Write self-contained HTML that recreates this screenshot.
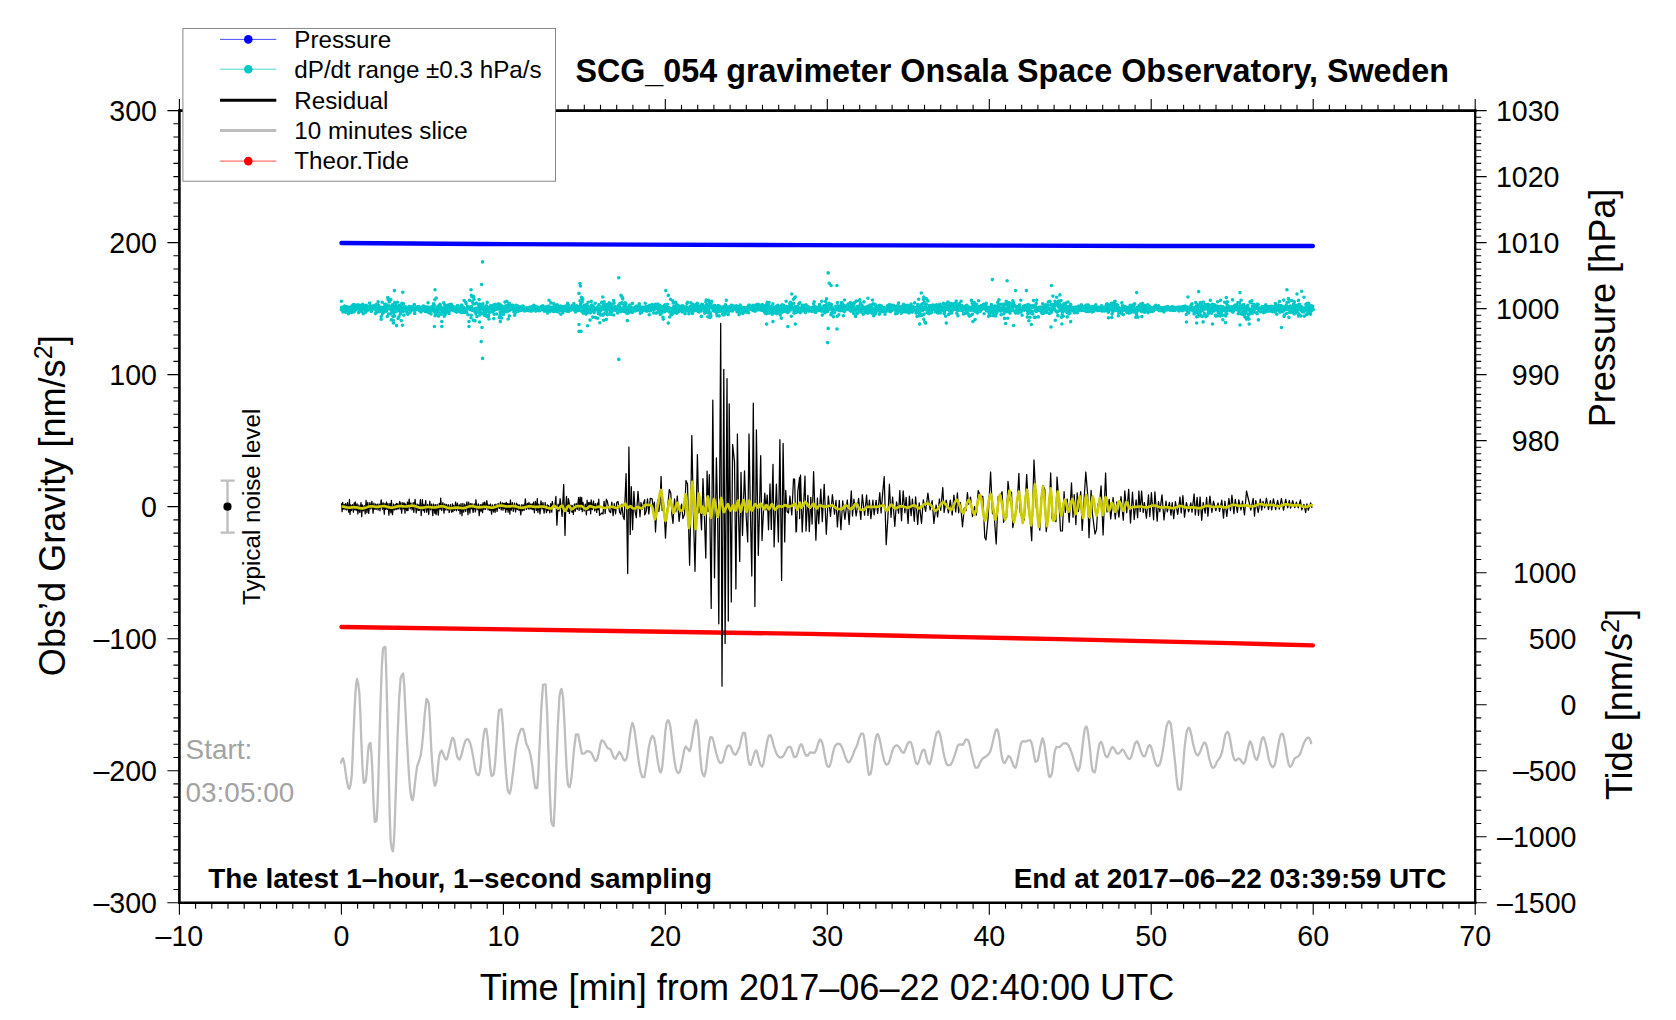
<!DOCTYPE html>
<html lang="en"><head><meta charset="utf-8"><title>SCG_054 gravimeter Onsala Space Observatory, Sweden</title>
<style>html,body{margin:0;padding:0;background:#fff}svg{display:block}</style></head>
<body>
<svg width="1676" height="1020" viewBox="0 0 1676 1020" font-family='"Liberation Sans", sans-serif' fill="#000">
<rect width="1676" height="1020" fill="#fff"/>
<polyline fill="none" stroke="#ff0000" stroke-width="4.4" stroke-linecap="round" stroke-linejoin="round" points="341.5,627.00 600.0,630.70 810.0,633.90 900.0,635.80 950.0,636.90 1060.0,639.10 1230.0,643.10 1312.8,645.40"/>
<polyline fill="none" stroke="#0000ff" stroke-width="4.4" stroke-linecap="round" stroke-linejoin="round" points="341.5,243.00 480.0,244.00 640.0,244.60 800.0,245.10 1000.0,245.60 1150.0,246.00 1312.8,246.00"/>
<path fill="none" stroke="#00c8c8" stroke-width="3.6" stroke-linecap="round" d="M341.4 309.7h0M341.6 307.4h0M341.9 307.6h0M342.2 309.8h0M342.5 307.5h0M342.7 309.3h0M343.0 312.0h0M343.3 308.8h0M343.5 308.4h0M343.8 310.2h0M344.1 308.0h0M344.3 310.9h0M344.6 306.1h0M344.9 310.0h0M345.2 307.7h0M345.4 307.1h0M345.7 312.3h0M346.0 307.0h0M346.2 312.3h0M346.5 310.0h0M346.8 311.7h0M347.0 306.7h0M347.3 311.2h0M347.6 311.7h0M347.9 308.5h0M348.1 308.4h0M348.4 313.7h0M348.7 309.1h0M348.9 307.8h0M349.2 307.4h0M349.5 309.6h0M349.7 309.4h0M350.0 309.1h0M350.3 312.2h0M350.6 308.0h0M350.8 309.7h0M351.1 311.7h0M351.4 306.6h0M351.6 310.8h0M351.9 312.5h0M352.2 305.9h0M352.4 306.5h0M352.7 306.6h0M353.0 304.9h0M353.3 309.6h0M353.5 304.9h0M353.8 309.7h0M354.1 311.7h0M354.3 305.4h0M354.6 308.1h0M354.9 304.8h0M355.1 310.3h0M355.4 307.2h0M355.7 308.2h0M356.0 308.8h0M356.2 309.8h0M356.5 308.0h0M356.8 308.7h0M357.0 307.6h0M357.3 308.9h0M357.6 306.3h0M357.8 308.8h0M358.1 304.7h0M358.4 307.7h0M358.7 312.6h0M358.9 308.9h0M359.2 306.1h0M359.5 309.2h0M359.7 306.7h0M360.0 305.3h0M360.3 307.2h0M360.5 310.2h0M360.8 309.5h0M361.1 308.5h0M361.4 306.8h0M361.6 306.5h0M361.9 311.5h0M362.2 309.2h0M362.4 306.7h0M362.7 304.4h0M363.0 305.9h0M363.2 313.8h0M363.5 306.3h0M363.8 308.5h0M364.1 309.1h0M364.3 308.4h0M364.6 308.1h0M364.9 305.9h0M365.1 306.5h0M365.4 312.2h0M365.7 307.1h0M365.9 310.4h0M366.2 305.2h0M366.5 308.1h0M366.8 309.2h0M367.0 310.8h0M367.3 306.4h0M367.6 309.9h0M367.8 309.5h0M368.1 307.2h0M368.4 309.7h0M368.6 306.9h0M368.9 307.1h0M369.2 308.7h0M369.5 303.1h0M369.7 308.5h0M370.0 306.6h0M370.3 305.7h0M370.5 307.8h0M370.8 310.3h0M371.1 307.9h0M371.3 311.4h0M371.6 306.2h0M371.9 307.5h0M372.2 307.9h0M372.4 306.8h0M372.7 308.7h0M373.0 309.0h0M373.2 305.9h0M373.5 306.3h0M373.8 306.0h0M374.0 306.3h0M374.3 307.4h0M374.6 306.3h0M374.9 306.9h0M375.1 309.2h0M375.4 313.6h0M375.7 309.9h0M375.9 304.9h0M376.2 312.9h0M376.5 308.6h0M376.7 311.4h0M377.0 304.6h0M377.3 309.5h0M377.6 308.4h0M377.8 308.3h0M378.1 301.9h0M378.4 307.3h0M378.6 305.2h0M378.9 311.8h0M379.2 307.2h0M379.4 309.3h0M379.7 308.9h0M380.0 309.5h0M380.3 307.9h0M380.5 308.0h0M380.8 309.3h0M381.1 307.2h0M381.3 308.8h0M381.6 311.3h0M381.9 309.7h0M382.2 302.2h0M382.4 313.8h0M382.7 311.7h0M383.0 311.7h0M383.2 307.3h0M383.5 309.5h0M383.8 308.8h0M384.0 312.1h0M384.3 309.5h0M384.6 310.1h0M384.9 304.6h0M385.1 304.2h0M385.4 307.8h0M385.7 310.0h0M385.9 304.3h0M386.2 304.5h0M386.5 311.1h0M386.7 309.3h0M387.0 306.2h0M387.3 316.5h0M387.6 307.4h0M387.8 297.5h0M388.1 299.8h0M388.4 306.7h0M388.6 314.0h0M388.9 305.8h0M389.2 301.9h0M389.4 308.7h0M389.7 309.0h0M390.0 299.9h0M390.3 306.6h0M390.5 313.9h0M390.8 299.6h0M391.1 307.0h0M391.3 319.9h0M391.6 310.6h0M391.9 305.9h0M392.1 309.9h0M392.4 304.9h0M392.7 309.5h0M393.0 316.6h0M393.2 309.9h0M393.5 312.9h0M393.8 306.4h0M394.0 309.3h0M394.3 309.5h0M394.6 315.9h0M394.8 302.6h0M395.1 308.4h0M395.4 309.9h0M395.7 311.8h0M395.9 303.8h0M396.2 307.9h0M396.5 325.6h0M396.7 310.6h0M397.0 306.3h0M397.3 302.2h0M397.5 307.4h0M397.8 310.7h0M398.1 318.4h0M398.4 308.1h0M398.6 308.1h0M398.9 316.8h0M399.2 309.6h0M399.4 305.3h0M399.7 309.9h0M400.0 309.0h0M400.2 314.1h0M400.5 310.5h0M400.8 312.3h0M401.1 305.6h0M401.3 307.0h0M401.6 309.2h0M401.9 303.3h0M402.1 306.4h0M402.4 307.3h0M402.7 311.4h0M402.9 309.8h0M403.2 308.6h0M403.5 303.7h0M403.8 315.3h0M404.0 315.0h0M404.3 310.6h0M404.6 309.2h0M404.8 308.6h0M405.1 310.7h0M405.4 306.8h0M405.6 308.8h0M405.9 308.1h0M406.2 309.8h0M406.5 309.8h0M406.7 309.9h0M407.0 312.5h0M407.3 309.0h0M407.5 309.0h0M407.8 314.3h0M408.1 307.7h0M408.3 307.4h0M408.6 309.1h0M408.9 306.5h0M409.2 306.5h0M409.4 307.2h0M409.7 308.9h0M410.0 312.6h0M410.2 309.3h0M410.5 310.1h0M410.8 308.1h0M411.0 308.1h0M411.3 310.5h0M411.6 306.7h0M411.9 308.7h0M412.1 309.5h0M412.4 308.6h0M412.7 308.0h0M412.9 307.4h0M413.2 307.0h0M413.5 308.9h0M413.7 308.6h0M414.0 310.1h0M414.3 304.6h0M414.6 313.4h0M414.8 313.4h0M415.1 308.6h0M415.4 310.1h0M415.6 309.7h0M415.9 309.3h0M416.2 308.3h0M416.4 308.4h0M416.7 307.0h0M417.0 309.1h0M417.3 308.7h0M417.5 309.4h0M417.8 306.9h0M418.1 308.8h0M418.3 308.8h0M418.6 309.9h0M418.9 306.5h0M419.1 309.6h0M419.4 310.7h0M419.7 309.9h0M420.0 307.9h0M420.2 307.7h0M420.5 308.2h0M420.8 310.2h0M421.0 311.9h0M421.3 308.4h0M421.6 307.4h0M421.8 309.5h0M422.1 309.1h0M422.4 306.8h0M422.7 307.2h0M422.9 308.5h0M423.2 310.2h0M423.5 306.0h0M423.7 306.4h0M424.0 309.0h0M424.3 309.5h0M424.5 308.6h0M424.8 307.9h0M425.1 311.5h0M425.4 306.9h0M425.6 311.3h0M425.9 308.0h0M426.2 310.8h0M426.4 310.7h0M426.7 307.6h0M427.0 311.6h0M427.2 307.3h0M427.5 310.0h0M427.8 311.3h0M428.1 302.7h0M428.3 307.1h0M428.6 312.5h0M428.9 312.6h0M429.1 307.5h0M429.4 308.0h0M429.7 308.6h0M429.9 309.0h0M430.2 310.3h0M430.5 310.4h0M430.8 308.8h0M431.0 314.0h0M431.3 309.3h0M431.6 308.1h0M431.8 306.9h0M432.1 310.8h0M432.4 309.3h0M432.6 308.3h0M432.9 309.6h0M433.2 305.8h0M433.5 303.8h0M433.7 308.6h0M434.0 305.9h0M434.3 305.0h0M434.5 311.9h0M434.8 299.7h0M435.1 315.7h0M435.3 309.0h0M435.6 313.2h0M435.9 312.4h0M436.2 298.1h0M436.4 314.6h0M436.7 310.8h0M437.0 308.7h0M437.2 314.3h0M437.5 306.7h0M437.8 308.3h0M438.0 311.7h0M438.3 309.1h0M438.6 316.1h0M438.9 305.6h0M439.1 309.8h0M439.4 308.3h0M439.7 306.7h0M439.9 304.4h0M440.2 305.5h0M440.5 305.6h0M440.7 313.2h0M441.0 307.3h0M441.3 314.2h0M441.6 313.9h0M441.8 308.0h0M442.1 311.1h0M442.4 309.5h0M442.6 310.7h0M442.9 308.3h0M443.2 312.5h0M443.4 312.5h0M443.7 302.8h0M444.0 311.1h0M444.3 316.2h0M444.5 304.5h0M444.8 307.3h0M445.1 309.7h0M445.3 314.3h0M445.6 313.1h0M445.9 308.8h0M446.1 306.7h0M446.4 306.9h0M446.7 307.8h0M447.0 311.6h0M447.2 310.0h0M447.5 305.4h0M447.8 306.2h0M448.0 309.7h0M448.3 311.3h0M448.6 307.0h0M448.8 305.1h0M449.1 313.4h0M449.4 310.7h0M449.7 304.6h0M449.9 309.0h0M450.2 304.6h0M450.5 310.3h0M450.7 308.3h0M451.0 309.2h0M451.3 304.2h0M451.5 305.6h0M451.8 307.2h0M452.1 306.2h0M452.4 306.8h0M452.6 308.3h0M452.9 306.2h0M453.2 306.7h0M453.4 310.4h0M453.7 307.5h0M454.0 308.7h0M454.2 310.9h0M454.5 309.8h0M454.8 310.7h0M455.1 307.6h0M455.3 310.3h0M455.6 308.3h0M455.9 309.4h0M456.1 308.7h0M456.4 312.1h0M456.7 306.9h0M456.9 311.3h0M457.2 308.7h0M457.5 305.6h0M457.8 308.4h0M458.0 307.2h0M458.3 309.9h0M458.6 307.1h0M458.8 307.6h0M459.1 311.6h0M459.4 307.7h0M459.6 307.8h0M459.9 308.6h0M460.2 307.2h0M460.5 310.2h0M460.7 306.2h0M461.0 307.7h0M461.3 312.6h0M461.5 305.0h0M461.8 306.4h0M462.1 308.9h0M462.3 310.8h0M462.6 308.6h0M462.9 309.7h0M463.2 310.7h0M463.4 307.4h0M463.7 308.6h0M464.0 312.4h0M464.2 300.6h0M464.5 310.1h0M464.8 310.8h0M465.1 309.5h0M465.3 310.6h0M465.6 302.2h0M465.9 312.2h0M466.1 303.4h0M466.4 312.1h0M466.7 311.9h0M466.9 308.8h0M467.2 307.4h0M467.5 306.4h0M467.8 308.1h0M468.0 314.7h0M468.3 307.1h0M468.6 307.9h0M468.8 308.8h0M469.1 307.8h0M469.4 300.2h0M469.6 307.5h0M469.9 309.4h0M470.2 309.0h0M470.5 308.3h0M470.7 306.9h0M471.0 317.7h0M471.3 315.3h0M471.5 306.7h0M471.8 310.3h0M472.1 296.7h0M472.3 301.7h0M472.6 308.7h0M472.9 310.4h0M473.2 303.8h0M473.4 320.3h0M473.7 296.6h0M474.0 299.5h0M474.2 309.0h0M474.5 311.2h0M474.8 304.0h0M475.0 320.8h0M475.3 308.9h0M475.6 310.2h0M475.9 313.7h0M476.1 308.3h0M476.4 303.0h0M476.7 308.2h0M476.9 316.4h0M477.2 311.7h0M477.5 309.4h0M477.7 310.4h0M478.0 307.7h0M478.3 304.5h0M478.6 312.2h0M478.8 309.6h0M479.1 299.6h0M479.4 310.0h0M479.6 304.0h0M479.9 314.9h0M480.2 311.7h0M480.4 313.1h0M480.7 306.4h0M481.0 309.0h0M481.3 313.4h0M481.5 307.3h0M481.8 306.4h0M482.1 308.0h0M482.3 306.6h0M482.6 308.3h0M482.9 303.9h0M483.1 313.0h0M483.4 308.1h0M483.7 310.0h0M484.0 307.5h0M484.2 315.2h0M484.5 307.2h0M484.8 310.5h0M485.0 308.1h0M485.3 312.2h0M485.6 307.6h0M485.8 314.1h0M486.1 311.9h0M486.4 305.8h0M486.7 316.5h0M486.9 310.1h0M487.2 302.4h0M487.5 310.2h0M487.7 311.3h0M488.0 307.2h0M488.3 316.4h0M488.5 315.4h0M488.8 309.2h0M489.1 308.8h0M489.4 308.1h0M489.6 312.6h0M489.9 307.0h0M490.2 306.8h0M490.4 308.1h0M490.7 305.8h0M491.0 308.6h0M491.2 308.8h0M491.5 308.5h0M491.8 309.8h0M492.1 309.8h0M492.3 309.5h0M492.6 310.8h0M492.9 312.0h0M493.1 307.4h0M493.4 305.0h0M493.7 308.4h0M493.9 310.4h0M494.2 314.2h0M494.5 306.1h0M494.8 307.5h0M495.0 305.5h0M495.3 304.3h0M495.6 309.6h0M495.8 308.8h0M496.1 307.5h0M496.4 308.3h0M496.6 314.0h0M496.9 307.5h0M497.2 307.8h0M497.5 306.2h0M497.7 309.3h0M498.0 308.0h0M498.3 306.2h0M498.5 303.9h0M498.8 308.2h0M499.1 307.6h0M499.3 317.7h0M499.6 304.5h0M499.9 316.0h0M500.2 312.0h0M500.4 314.6h0M500.7 309.0h0M501.0 305.3h0M501.2 307.9h0M501.5 309.6h0M501.8 310.9h0M502.0 311.3h0M502.3 306.5h0M502.6 310.4h0M502.9 309.3h0M503.1 309.0h0M503.4 314.5h0M503.7 312.1h0M503.9 312.5h0M504.2 309.9h0M504.5 308.2h0M504.7 308.6h0M505.0 302.1h0M505.3 306.0h0M505.6 308.7h0M505.8 310.9h0M506.1 309.4h0M506.4 305.9h0M506.6 310.7h0M506.9 301.4h0M507.2 311.7h0M507.4 306.5h0M507.7 310.2h0M508.0 305.8h0M508.3 306.8h0M508.5 310.7h0M508.8 304.0h0M509.1 306.6h0M509.3 315.9h0M509.6 303.9h0M509.9 310.3h0M510.1 309.7h0M510.4 307.9h0M510.7 306.8h0M511.0 309.5h0M511.2 308.9h0M511.5 308.7h0M511.8 308.5h0M512.0 309.0h0M512.3 305.3h0M512.6 305.3h0M512.8 308.4h0M513.1 305.7h0M513.4 306.7h0M513.7 307.7h0M513.9 311.9h0M514.2 309.1h0M514.5 309.9h0M514.7 315.2h0M515.0 307.5h0M515.3 312.7h0M515.5 308.3h0M515.8 308.0h0M516.1 305.2h0M516.4 311.8h0M516.6 308.3h0M516.9 307.4h0M517.2 310.6h0M517.4 308.2h0M517.7 306.1h0M518.0 306.3h0M518.2 311.2h0M518.5 307.7h0M518.8 308.3h0M519.1 309.7h0M519.3 306.7h0M519.6 308.7h0M519.9 309.1h0M520.1 306.9h0M520.4 308.8h0M520.7 309.0h0M520.9 310.5h0M521.2 310.0h0M521.5 309.8h0M521.8 308.2h0M522.0 308.4h0M522.3 308.2h0M522.6 309.0h0M522.8 306.1h0M523.1 309.7h0M523.4 306.6h0M523.6 308.0h0M523.9 308.7h0M524.2 308.0h0M524.5 310.9h0M524.7 308.6h0M525.0 310.8h0M525.3 310.3h0M525.5 308.0h0M525.8 309.2h0M526.1 310.4h0M526.3 308.3h0M526.6 308.8h0M526.9 307.9h0M527.2 308.8h0M527.4 308.2h0M527.7 308.8h0M528.0 310.0h0M528.2 310.6h0M528.5 308.9h0M528.8 309.0h0M529.0 309.9h0M529.3 308.3h0M529.6 307.3h0M529.9 310.2h0M530.1 307.4h0M530.4 310.0h0M530.7 307.4h0M530.9 311.2h0M531.2 307.3h0M531.5 309.8h0M531.7 310.7h0M532.0 307.4h0M532.3 310.7h0M532.6 307.6h0M532.8 306.3h0M533.1 309.7h0M533.4 309.6h0M533.6 308.4h0M533.9 305.3h0M534.2 308.6h0M534.4 308.3h0M534.7 308.2h0M535.0 308.3h0M535.3 306.3h0M535.5 307.9h0M535.8 311.1h0M536.1 310.8h0M536.3 308.2h0M536.6 307.7h0M536.9 309.2h0M537.1 310.1h0M537.4 309.7h0M537.7 307.1h0M538.0 308.9h0M538.2 308.9h0M538.5 310.6h0M538.8 310.3h0M539.0 309.4h0M539.3 310.3h0M539.6 308.2h0M539.8 310.8h0M540.1 308.1h0M540.4 309.2h0M540.7 309.9h0M540.9 307.5h0M541.2 307.8h0M541.5 306.3h0M541.7 308.9h0M542.0 308.6h0M542.3 308.3h0M542.5 309.4h0M542.8 305.9h0M543.1 308.7h0M543.4 308.8h0M543.6 308.3h0M543.9 309.8h0M544.2 311.1h0M544.4 308.1h0M544.7 307.4h0M545.0 307.9h0M545.3 308.9h0M545.5 309.9h0M545.8 307.0h0M546.1 310.7h0M546.3 306.7h0M546.6 310.3h0M546.9 309.5h0M547.1 309.6h0M547.4 312.9h0M547.7 308.2h0M548.0 308.4h0M548.2 309.6h0M548.5 310.4h0M548.8 306.1h0M549.0 309.2h0M549.3 307.2h0M549.6 309.9h0M549.8 311.4h0M550.1 308.8h0M550.4 308.5h0M550.7 309.1h0M550.9 302.9h0M551.2 310.2h0M551.5 309.8h0M551.7 309.0h0M552.0 307.9h0M552.3 307.3h0M552.5 308.3h0M552.8 311.1h0M553.1 308.5h0M553.4 311.4h0M553.6 303.6h0M553.9 307.8h0M554.2 309.2h0M554.4 308.7h0M554.7 305.4h0M555.0 307.4h0M555.2 311.2h0M555.5 306.2h0M555.8 306.8h0M556.1 306.5h0M556.3 307.6h0M556.6 310.0h0M556.9 309.9h0M557.1 304.7h0M557.4 311.6h0M557.7 307.5h0M557.9 307.5h0M558.2 312.0h0M558.5 308.5h0M558.8 306.3h0M559.0 307.4h0M559.3 307.3h0M559.6 306.7h0M559.8 308.0h0M560.1 310.4h0M560.4 309.4h0M560.6 306.0h0M560.9 314.2h0M561.2 306.8h0M561.5 308.9h0M561.7 308.8h0M562.0 310.2h0M562.3 308.1h0M562.5 309.6h0M562.8 312.8h0M563.1 308.9h0M563.3 306.6h0M563.6 309.3h0M563.9 307.1h0M564.2 308.0h0M564.4 309.1h0M564.7 309.4h0M565.0 308.1h0M565.2 310.4h0M565.5 308.3h0M565.8 306.1h0M566.0 310.4h0M566.3 308.0h0M566.6 311.1h0M566.9 307.4h0M567.1 309.8h0M567.4 309.3h0M567.7 303.4h0M567.9 305.8h0M568.2 306.5h0M568.5 311.5h0M568.7 305.0h0M569.0 310.5h0M569.3 310.8h0M569.6 309.7h0M569.8 310.0h0M570.1 307.7h0M570.4 308.7h0M570.6 309.1h0M570.9 309.5h0M571.2 310.1h0M571.4 308.3h0M571.7 307.3h0M572.0 307.6h0M572.3 309.5h0M572.5 305.4h0M572.8 306.2h0M573.1 307.9h0M573.3 307.6h0M573.6 308.2h0M573.9 303.5h0M574.1 308.0h0M574.4 308.2h0M574.7 310.5h0M575.0 306.8h0M575.2 310.0h0M575.5 312.0h0M575.8 310.6h0M576.0 307.6h0M576.3 306.6h0M576.6 305.7h0M576.8 310.2h0M577.1 310.2h0M577.4 306.2h0M577.7 310.5h0M577.9 308.0h0M578.2 308.9h0M578.5 310.4h0M578.7 308.6h0M579.0 308.3h0M579.3 309.6h0M579.5 309.0h0M579.8 306.2h0M580.1 300.9h0M580.4 306.7h0M580.6 304.1h0M580.9 307.3h0M581.2 306.0h0M581.4 297.3h0M581.7 311.5h0M582.0 300.8h0M582.2 302.0h0M582.5 307.7h0M582.8 298.9h0M583.1 310.2h0M583.3 313.3h0M583.6 308.6h0M583.9 310.0h0M584.1 309.2h0M584.4 305.3h0M584.7 307.5h0M584.9 310.7h0M585.2 311.3h0M585.5 309.3h0M585.8 309.1h0M586.0 314.1h0M586.3 308.1h0M586.6 310.2h0M586.8 304.4h0M587.1 310.7h0M587.4 312.4h0M587.6 306.4h0M587.9 312.5h0M588.2 302.3h0M588.5 312.8h0M588.7 308.9h0M589.0 311.3h0M589.3 309.0h0M589.5 311.1h0M589.8 307.3h0M590.1 320.1h0M590.3 312.8h0M590.6 311.2h0M590.9 308.7h0M591.2 301.4h0M591.4 305.4h0M591.7 309.5h0M592.0 305.1h0M592.2 306.1h0M592.5 310.9h0M592.8 317.1h0M593.0 310.5h0M593.3 306.6h0M593.6 308.6h0M593.9 309.6h0M594.1 312.6h0M594.4 309.3h0M594.7 311.0h0M594.9 309.3h0M595.2 303.2h0M595.5 317.6h0M595.7 309.2h0M596.0 308.5h0M596.3 308.2h0M596.6 308.2h0M596.8 307.9h0M597.1 309.7h0M597.4 307.0h0M597.6 318.2h0M597.9 310.1h0M598.2 312.8h0M598.4 313.8h0M598.7 311.5h0M599.0 304.9h0M599.3 313.7h0M599.5 311.8h0M599.8 322.7h0M600.1 308.5h0M600.3 310.0h0M600.6 314.9h0M600.9 310.4h0M601.1 308.2h0M601.4 309.3h0M601.7 302.4h0M602.0 306.9h0M602.2 314.4h0M602.5 303.0h0M602.8 297.0h0M603.0 315.2h0M603.3 306.4h0M603.6 309.3h0M603.8 305.3h0M604.1 301.9h0M604.4 307.7h0M604.7 309.7h0M604.9 313.2h0M605.2 306.0h0M605.5 307.3h0M605.7 305.0h0M606.0 306.8h0M606.3 319.4h0M606.5 311.8h0M606.8 304.6h0M607.1 309.3h0M607.4 314.6h0M607.6 307.7h0M607.9 304.7h0M608.2 307.1h0M608.4 305.6h0M608.7 309.1h0M609.0 314.0h0M609.2 302.7h0M609.5 309.7h0M609.8 309.1h0M610.1 310.7h0M610.3 304.3h0M610.6 308.4h0M610.9 311.8h0M611.1 314.4h0M611.4 312.1h0M611.7 306.2h0M611.9 304.1h0M612.2 310.4h0M612.5 309.3h0M612.8 310.7h0M613.0 310.0h0M613.3 307.3h0M613.6 300.5h0M613.8 315.0h0M614.1 303.1h0M614.4 309.0h0M614.6 307.4h0M614.9 307.5h0M615.2 306.5h0M615.5 309.6h0M615.7 309.3h0M616.0 310.5h0M616.3 308.1h0M616.5 307.5h0M616.8 309.6h0M617.1 307.2h0M617.3 310.0h0M617.6 312.9h0M617.9 307.8h0M618.2 309.6h0M618.4 307.8h0M618.7 305.0h0M619.0 310.3h0M619.2 304.7h0M619.5 311.5h0M619.8 307.3h0M620.0 303.6h0M620.3 310.8h0M620.6 308.9h0M620.9 303.7h0M621.1 311.6h0M621.4 303.5h0M621.7 302.9h0M621.9 310.1h0M622.2 297.4h0M622.5 310.6h0M622.7 298.9h0M623.0 308.0h0M623.3 307.5h0M623.6 309.5h0M623.8 309.1h0M624.1 305.4h0M624.4 311.8h0M624.6 310.3h0M624.9 308.7h0M625.2 302.8h0M625.5 308.2h0M625.7 303.8h0M626.0 303.7h0M626.3 311.5h0M626.5 310.3h0M626.8 307.1h0M627.1 313.5h0M627.3 308.9h0M627.6 307.6h0M627.9 311.3h0M628.2 307.2h0M628.4 308.4h0M628.7 312.9h0M629.0 306.9h0M629.2 309.0h0M629.5 309.7h0M629.8 305.1h0M630.0 309.5h0M630.3 309.3h0M630.6 306.8h0M630.9 311.0h0M631.1 309.5h0M631.4 307.8h0M631.7 307.8h0M631.9 307.7h0M632.2 312.4h0M632.5 303.4h0M632.7 310.2h0M633.0 310.9h0M633.3 309.5h0M633.6 308.3h0M633.8 308.2h0M634.1 309.2h0M634.4 308.1h0M634.6 307.6h0M634.9 308.0h0M635.2 311.0h0M635.4 307.5h0M635.7 309.5h0M636.0 306.4h0M636.3 307.3h0M636.5 306.0h0M636.8 308.3h0M637.1 310.1h0M637.3 309.3h0M637.6 307.7h0M637.9 309.9h0M638.1 308.0h0M638.4 309.4h0M638.7 309.2h0M639.0 309.8h0M639.2 303.8h0M639.5 306.1h0M639.8 310.2h0M640.0 308.5h0M640.3 313.2h0M640.6 308.2h0M640.8 307.6h0M641.1 311.7h0M641.4 309.8h0M641.7 312.5h0M641.9 309.7h0M642.2 308.3h0M642.5 310.1h0M642.7 307.1h0M643.0 307.8h0M643.3 307.6h0M643.5 308.3h0M643.8 310.2h0M644.1 307.7h0M644.4 309.3h0M644.6 307.7h0M644.9 310.5h0M645.2 303.2h0M645.4 308.3h0M645.7 309.0h0M646.0 306.6h0M646.2 310.7h0M646.5 309.1h0M646.8 311.2h0M647.1 310.6h0M647.3 310.0h0M647.6 308.4h0M647.9 306.5h0M648.1 308.3h0M648.4 307.8h0M648.7 309.2h0M648.9 307.8h0M649.2 314.8h0M649.5 305.5h0M649.8 311.0h0M650.0 307.8h0M650.3 308.2h0M650.6 310.5h0M650.8 308.7h0M651.1 306.3h0M651.4 309.5h0M651.6 308.3h0M651.9 304.6h0M652.2 309.1h0M652.5 306.6h0M652.7 307.2h0M653.0 309.7h0M653.3 309.3h0M653.5 308.1h0M653.8 313.0h0M654.1 309.5h0M654.3 307.5h0M654.6 309.2h0M654.9 308.5h0M655.2 304.3h0M655.4 305.6h0M655.7 305.9h0M656.0 313.1h0M656.2 308.3h0M656.5 308.1h0M656.8 308.7h0M657.0 312.8h0M657.3 308.4h0M657.6 309.1h0M657.9 304.1h0M658.1 307.1h0M658.4 310.1h0M658.7 309.5h0M658.9 311.4h0M659.2 311.8h0M659.5 308.3h0M659.7 307.0h0M660.0 305.5h0M660.3 314.5h0M660.6 309.6h0M660.8 309.2h0M661.1 306.9h0M661.4 308.8h0M661.6 311.2h0M661.9 312.9h0M662.2 309.2h0M662.4 310.3h0M662.7 309.2h0M663.0 317.4h0M663.3 319.1h0M663.5 309.7h0M663.8 306.2h0M664.1 305.7h0M664.3 309.5h0M664.6 311.8h0M664.9 304.7h0M665.1 308.5h0M665.4 305.5h0M665.7 306.9h0M666.0 308.5h0M666.2 306.9h0M666.5 310.2h0M666.8 308.5h0M667.0 310.7h0M667.3 304.2h0M667.6 309.4h0M667.8 308.3h0M668.1 308.0h0M668.4 309.9h0M668.7 307.5h0M668.9 307.7h0M669.2 309.8h0M669.5 311.9h0M669.7 317.0h0M670.0 308.6h0M670.3 310.5h0M670.5 299.2h0M670.8 310.6h0M671.1 314.4h0M671.4 314.3h0M671.6 310.1h0M671.9 314.6h0M672.2 308.2h0M672.4 313.0h0M672.7 300.8h0M673.0 312.0h0M673.2 303.0h0M673.5 311.5h0M673.8 306.5h0M674.1 312.7h0M674.3 308.3h0M674.6 310.9h0M674.9 307.6h0M675.1 308.9h0M675.4 309.5h0M675.7 302.4h0M675.9 309.0h0M676.2 305.0h0M676.5 311.6h0M676.8 313.2h0M677.0 308.0h0M677.3 306.1h0M677.6 305.1h0M677.8 309.5h0M678.1 305.4h0M678.4 308.3h0M678.6 308.7h0M678.9 311.6h0M679.2 311.1h0M679.5 306.3h0M679.7 310.1h0M680.0 306.9h0M680.3 309.2h0M680.5 309.1h0M680.8 310.6h0M681.1 310.3h0M681.3 306.3h0M681.6 308.5h0M681.9 309.5h0M682.2 308.3h0M682.4 311.9h0M682.7 305.9h0M683.0 309.8h0M683.2 309.1h0M683.5 307.7h0M683.8 308.5h0M684.0 308.2h0M684.3 309.3h0M684.6 307.5h0M684.9 308.0h0M685.1 313.8h0M685.4 307.8h0M685.7 309.8h0M685.9 310.9h0M686.2 306.9h0M686.5 310.3h0M686.7 307.4h0M687.0 303.4h0M687.3 308.7h0M687.6 302.2h0M687.8 308.6h0M688.1 309.3h0M688.4 308.2h0M688.6 311.2h0M688.9 313.7h0M689.2 308.7h0M689.4 310.9h0M689.7 310.6h0M690.0 306.5h0M690.3 309.8h0M690.5 306.4h0M690.8 302.7h0M691.1 310.9h0M691.3 307.0h0M691.6 306.8h0M691.9 311.3h0M692.1 307.0h0M692.4 313.5h0M692.7 310.5h0M693.0 304.3h0M693.2 310.2h0M693.5 308.7h0M693.8 308.4h0M694.0 311.0h0M694.3 306.9h0M694.6 307.9h0M694.8 308.3h0M695.1 307.2h0M695.4 307.9h0M695.7 305.6h0M695.9 307.8h0M696.2 310.3h0M696.5 304.3h0M696.7 308.2h0M697.0 306.8h0M697.3 303.3h0M697.5 305.9h0M697.8 311.2h0M698.1 309.9h0M698.4 308.6h0M698.6 307.9h0M698.9 307.7h0M699.2 311.9h0M699.4 309.8h0M699.7 309.8h0M700.0 308.0h0M700.2 310.1h0M700.5 305.9h0M700.8 309.6h0M701.1 311.0h0M701.3 316.4h0M701.6 304.5h0M701.9 306.7h0M702.1 308.9h0M702.4 304.4h0M702.7 308.8h0M702.9 305.6h0M703.2 305.6h0M703.5 308.5h0M703.8 308.9h0M704.0 307.6h0M704.3 306.4h0M704.6 311.7h0M704.8 313.3h0M705.1 310.9h0M705.4 306.2h0M705.6 312.6h0M705.9 302.0h0M706.2 300.1h0M706.5 309.4h0M706.7 304.5h0M707.0 306.4h0M707.3 312.3h0M707.5 312.2h0M707.8 316.8h0M708.1 306.9h0M708.4 300.4h0M708.6 312.9h0M708.9 310.6h0M709.2 305.8h0M709.4 303.5h0M709.7 307.4h0M710.0 317.5h0M710.2 312.7h0M710.5 314.2h0M710.8 316.5h0M711.1 303.0h0M711.3 306.5h0M711.6 301.4h0M711.9 308.0h0M712.1 306.4h0M712.4 306.1h0M712.7 306.8h0M712.9 309.0h0M713.2 310.6h0M713.5 310.0h0M713.8 307.2h0M714.0 309.5h0M714.3 305.6h0M714.6 309.5h0M714.8 311.2h0M715.1 305.9h0M715.4 306.2h0M715.6 310.9h0M715.9 310.5h0M716.2 307.7h0M716.5 313.1h0M716.7 310.6h0M717.0 315.8h0M717.3 311.3h0M717.5 310.0h0M717.8 307.5h0M718.1 309.3h0M718.3 305.5h0M718.6 306.8h0M718.9 309.8h0M719.2 315.9h0M719.4 311.8h0M719.7 308.4h0M720.0 306.8h0M720.2 309.0h0M720.5 307.7h0M720.8 307.2h0M721.0 307.8h0M721.3 310.3h0M721.6 307.3h0M721.9 308.3h0M722.1 309.5h0M722.4 311.1h0M722.7 314.0h0M722.9 307.8h0M723.2 308.4h0M723.5 306.7h0M723.7 314.9h0M724.0 309.2h0M724.3 308.6h0M724.6 311.5h0M724.8 309.7h0M725.1 308.6h0M725.4 304.8h0M725.6 313.6h0M725.9 309.1h0M726.2 309.5h0M726.4 300.2h0M726.7 310.2h0M727.0 306.7h0M727.3 309.0h0M727.5 307.5h0M727.8 308.2h0M728.1 314.4h0M728.3 309.5h0M728.6 311.5h0M728.9 308.4h0M729.1 309.4h0M729.4 306.9h0M729.7 309.4h0M730.0 310.0h0M730.2 310.8h0M730.5 307.2h0M730.8 309.6h0M731.0 306.9h0M731.3 305.3h0M731.6 305.4h0M731.8 309.2h0M732.1 310.3h0M732.4 311.0h0M732.7 310.5h0M732.9 309.7h0M733.2 309.7h0M733.5 306.1h0M733.7 309.4h0M734.0 306.6h0M734.3 306.3h0M734.5 308.0h0M734.8 309.0h0M735.1 308.6h0M735.4 308.0h0M735.6 306.7h0M735.9 309.1h0M736.2 307.2h0M736.4 305.8h0M736.7 308.9h0M737.0 311.7h0M737.2 307.9h0M737.5 306.5h0M737.8 311.5h0M738.1 312.2h0M738.3 308.1h0M738.6 308.3h0M738.9 309.1h0M739.1 314.7h0M739.4 309.0h0M739.7 310.7h0M739.9 309.6h0M740.2 305.0h0M740.5 306.5h0M740.8 306.2h0M741.0 309.6h0M741.3 308.9h0M741.6 312.4h0M741.8 308.1h0M742.1 309.3h0M742.4 308.9h0M742.6 309.0h0M742.9 313.4h0M743.2 309.3h0M743.5 311.7h0M743.7 311.3h0M744.0 307.5h0M744.3 310.1h0M744.5 307.9h0M744.8 308.9h0M745.1 309.0h0M745.3 308.7h0M745.6 307.7h0M745.9 311.9h0M746.2 308.2h0M746.4 310.1h0M746.7 312.1h0M747.0 310.0h0M747.2 310.8h0M747.5 311.5h0M747.8 310.9h0M748.0 312.2h0M748.3 305.8h0M748.6 312.7h0M748.9 308.8h0M749.1 305.1h0M749.4 307.4h0M749.7 305.8h0M749.9 308.7h0M750.2 305.7h0M750.5 306.6h0M750.7 309.3h0M751.0 309.0h0M751.3 307.1h0M751.6 308.2h0M751.8 308.5h0M752.1 308.9h0M752.4 308.7h0M752.6 308.2h0M752.9 310.5h0M753.2 305.4h0M753.4 307.7h0M753.7 309.0h0M754.0 307.9h0M754.3 307.6h0M754.5 307.8h0M754.8 309.1h0M755.1 311.2h0M755.3 308.3h0M755.6 308.2h0M755.9 309.4h0M756.1 308.2h0M756.4 304.7h0M756.7 309.2h0M757.0 307.9h0M757.2 307.5h0M757.5 310.0h0M757.8 308.8h0M758.0 307.5h0M758.3 304.2h0M758.6 305.2h0M758.8 308.7h0M759.1 308.5h0M759.4 309.6h0M759.7 309.2h0M759.9 307.7h0M760.2 306.1h0M760.5 306.5h0M760.7 308.4h0M761.0 306.3h0M761.3 310.3h0M761.5 305.8h0M761.8 304.8h0M762.1 308.3h0M762.4 304.7h0M762.6 308.6h0M762.9 308.1h0M763.2 306.9h0M763.4 310.8h0M763.7 307.2h0M764.0 310.1h0M764.2 308.2h0M764.5 310.6h0M764.8 312.6h0M765.1 308.2h0M765.3 313.3h0M765.6 305.6h0M765.9 308.7h0M766.1 309.9h0M766.4 313.7h0M766.7 304.3h0M766.9 309.7h0M767.2 302.3h0M767.5 313.3h0M767.8 312.3h0M768.0 306.0h0M768.3 309.9h0M768.6 304.0h0M768.8 307.8h0M769.1 302.5h0M769.4 312.9h0M769.6 309.5h0M769.9 310.0h0M770.2 311.4h0M770.5 308.9h0M770.7 310.4h0M771.0 312.2h0M771.3 308.6h0M771.5 306.2h0M771.8 311.0h0M772.1 309.1h0M772.3 314.2h0M772.6 307.4h0M772.9 303.7h0M773.2 307.3h0M773.4 309.3h0M773.7 308.8h0M774.0 312.4h0M774.2 311.9h0M774.5 308.3h0M774.8 311.6h0M775.0 307.2h0M775.3 312.9h0M775.6 308.4h0M775.9 306.7h0M776.1 309.3h0M776.4 308.3h0M776.7 313.8h0M776.9 306.1h0M777.2 311.7h0M777.5 308.8h0M777.7 305.3h0M778.0 306.5h0M778.3 310.1h0M778.6 310.4h0M778.8 307.2h0M779.1 306.6h0M779.4 312.6h0M779.6 309.6h0M779.9 306.5h0M780.2 315.0h0M780.4 308.6h0M780.7 310.7h0M781.0 308.7h0M781.3 318.2h0M781.5 308.8h0M781.8 307.2h0M782.1 304.8h0M782.3 312.2h0M782.6 309.9h0M782.9 307.4h0M783.1 308.8h0M783.4 309.3h0M783.7 305.2h0M784.0 309.6h0M784.2 307.3h0M784.5 309.2h0M784.8 310.3h0M785.0 310.2h0M785.3 311.5h0M785.6 307.5h0M785.8 308.4h0M786.1 301.3h0M786.4 310.4h0M786.7 306.6h0M786.9 308.9h0M787.2 310.1h0M787.5 312.5h0M787.7 310.9h0M788.0 308.4h0M788.3 306.6h0M788.6 310.9h0M788.8 311.7h0M789.1 311.1h0M789.4 308.5h0M789.6 307.3h0M789.9 303.6h0M790.2 308.5h0M790.4 302.4h0M790.7 306.4h0M791.0 304.3h0M791.3 316.3h0M791.5 306.0h0M791.8 309.7h0M792.1 307.0h0M792.3 309.3h0M792.6 308.2h0M792.9 307.7h0M793.1 309.7h0M793.4 299.3h0M793.7 303.3h0M794.0 313.1h0M794.2 309.6h0M794.5 298.0h0M794.8 307.9h0M795.0 306.5h0M795.3 307.9h0M795.6 310.6h0M795.8 308.7h0M796.1 306.9h0M796.4 312.5h0M796.7 310.3h0M796.9 309.3h0M797.2 310.9h0M797.5 308.7h0M797.7 306.4h0M798.0 307.8h0M798.3 311.5h0M798.5 311.3h0M798.8 303.8h0M799.1 308.4h0M799.4 308.9h0M799.6 310.9h0M799.9 302.5h0M800.2 312.7h0M800.4 311.3h0M800.7 308.0h0M801.0 311.5h0M801.2 309.6h0M801.5 308.0h0M801.8 311.3h0M802.1 305.3h0M802.3 310.6h0M802.6 307.9h0M802.9 307.5h0M803.1 306.5h0M803.4 305.4h0M803.7 309.4h0M803.9 308.3h0M804.2 307.1h0M804.5 308.4h0M804.8 308.9h0M805.0 311.3h0M805.3 312.6h0M805.6 310.6h0M805.8 307.8h0M806.1 304.7h0M806.4 307.0h0M806.6 307.3h0M806.9 310.3h0M807.2 307.6h0M807.5 310.2h0M807.7 308.3h0M808.0 310.0h0M808.3 307.8h0M808.5 306.7h0M808.8 311.1h0M809.1 308.8h0M809.3 307.6h0M809.6 308.9h0M809.9 310.1h0M810.2 308.6h0M810.4 309.2h0M810.7 310.1h0M811.0 310.3h0M811.2 307.9h0M811.5 309.1h0M811.8 311.5h0M812.0 307.6h0M812.3 307.3h0M812.6 308.9h0M812.9 308.0h0M813.1 307.4h0M813.4 309.2h0M813.7 303.7h0M813.9 307.9h0M814.2 301.8h0M814.5 308.0h0M814.7 310.8h0M815.0 312.2h0M815.3 306.7h0M815.6 312.4h0M815.8 308.8h0M816.1 308.8h0M816.4 308.8h0M816.6 309.6h0M816.9 308.8h0M817.2 309.0h0M817.4 308.6h0M817.7 310.6h0M818.0 308.3h0M818.3 307.1h0M818.5 310.1h0M818.8 309.3h0M819.1 308.9h0M819.3 307.0h0M819.6 304.5h0M819.9 308.2h0M820.1 307.3h0M820.4 310.6h0M820.7 307.8h0M821.0 307.3h0M821.2 307.2h0M821.5 309.6h0M821.8 301.3h0M822.0 311.2h0M822.3 315.1h0M822.6 308.9h0M822.8 310.7h0M823.1 310.6h0M823.4 309.6h0M823.7 307.8h0M823.9 306.1h0M824.2 305.7h0M824.5 307.1h0M824.7 309.4h0M825.0 312.7h0M825.3 305.5h0M825.5 301.5h0M825.8 307.9h0M826.1 307.3h0M826.4 310.0h0M826.6 298.9h0M826.9 310.0h0M827.2 304.3h0M827.4 311.5h0M827.7 309.7h0M828.0 305.5h0M828.2 308.4h0M828.5 307.2h0M828.8 309.6h0M829.1 303.3h0M829.3 308.0h0M829.6 308.9h0M829.9 305.9h0M830.1 304.2h0M830.4 308.9h0M830.7 305.9h0M830.9 314.7h0M831.2 304.4h0M831.5 313.1h0M831.8 306.8h0M832.0 306.9h0M832.3 308.4h0M832.6 310.2h0M832.8 312.9h0M833.1 310.4h0M833.4 316.7h0M833.6 312.3h0M833.9 310.5h0M834.2 311.3h0M834.5 312.6h0M834.7 309.2h0M835.0 309.3h0M835.3 309.9h0M835.5 309.3h0M835.8 306.2h0M836.1 307.2h0M836.3 309.5h0M836.6 309.6h0M836.9 308.3h0M837.2 316.3h0M837.4 302.6h0M837.7 305.8h0M838.0 306.5h0M838.2 308.6h0M838.5 306.5h0M838.8 314.7h0M839.0 310.6h0M839.3 308.6h0M839.6 310.5h0M839.9 309.6h0M840.1 306.0h0M840.4 307.4h0M840.7 310.7h0M840.9 310.0h0M841.2 305.1h0M841.5 302.6h0M841.7 304.0h0M842.0 310.2h0M842.3 303.5h0M842.6 306.5h0M842.8 309.6h0M843.1 309.7h0M843.4 315.7h0M843.6 310.3h0M843.9 305.3h0M844.2 311.8h0M844.4 300.0h0M844.7 309.6h0M845.0 306.6h0M845.3 309.5h0M845.5 307.4h0M845.8 309.8h0M846.1 306.5h0M846.3 309.7h0M846.6 307.7h0M846.9 308.0h0M847.1 305.5h0M847.4 306.1h0M847.7 307.9h0M848.0 309.1h0M848.2 304.1h0M848.5 308.7h0M848.8 309.1h0M849.0 308.9h0M849.3 308.0h0M849.6 308.6h0M849.8 307.0h0M850.1 310.8h0M850.4 302.5h0M850.7 311.1h0M850.9 306.8h0M851.2 306.6h0M851.5 310.8h0M851.7 304.2h0M852.0 305.9h0M852.3 303.6h0M852.5 309.9h0M852.8 306.9h0M853.1 310.9h0M853.4 310.6h0M853.6 313.5h0M853.9 304.2h0M854.2 309.5h0M854.4 302.9h0M854.7 307.8h0M855.0 309.6h0M855.2 310.8h0M855.5 316.4h0M855.8 301.7h0M856.1 307.9h0M856.3 301.0h0M856.6 307.6h0M856.9 313.7h0M857.1 306.6h0M857.4 308.7h0M857.7 313.3h0M857.9 308.7h0M858.2 312.6h0M858.5 306.2h0M858.8 306.5h0M859.0 311.3h0M859.3 300.5h0M859.6 308.6h0M859.8 299.7h0M860.1 308.5h0M860.4 303.8h0M860.6 303.4h0M860.9 308.5h0M861.2 312.0h0M861.5 308.0h0M861.7 309.1h0M862.0 308.1h0M862.3 305.9h0M862.5 306.1h0M862.8 308.4h0M863.1 310.4h0M863.3 314.2h0M863.6 308.0h0M863.9 301.9h0M864.2 310.0h0M864.4 308.0h0M864.7 310.2h0M865.0 309.6h0M865.2 311.9h0M865.5 312.6h0M865.8 307.1h0M866.0 311.3h0M866.3 311.1h0M866.6 312.5h0M866.9 309.3h0M867.1 309.7h0M867.4 307.9h0M867.7 313.3h0M867.9 298.2h0M868.2 312.8h0M868.5 306.0h0M868.8 308.9h0M869.0 309.5h0M869.3 310.1h0M869.6 305.6h0M869.8 310.8h0M870.1 308.1h0M870.4 305.1h0M870.6 308.3h0M870.9 308.5h0M871.2 305.5h0M871.5 312.9h0M871.7 305.9h0M872.0 310.0h0M872.3 308.4h0M872.5 300.0h0M872.8 312.4h0M873.1 303.7h0M873.3 304.2h0M873.6 315.7h0M873.9 309.4h0M874.2 310.2h0M874.4 311.6h0M874.7 309.2h0M875.0 304.2h0M875.2 313.9h0M875.5 312.8h0M875.8 306.8h0M876.0 305.5h0M876.3 309.8h0M876.6 306.6h0M876.9 310.9h0M877.1 306.4h0M877.4 308.1h0M877.7 309.6h0M877.9 310.2h0M878.2 310.6h0M878.5 309.4h0M878.7 310.7h0M879.0 309.5h0M879.3 314.2h0M879.6 305.3h0M879.8 313.7h0M880.1 309.9h0M880.4 308.6h0M880.6 306.7h0M880.9 311.6h0M881.2 305.8h0M881.4 309.0h0M881.7 308.8h0M882.0 308.4h0M882.3 307.5h0M882.5 310.0h0M882.8 311.4h0M883.1 310.7h0M883.3 308.3h0M883.6 310.9h0M883.9 308.4h0M884.1 307.5h0M884.4 309.7h0M884.7 309.3h0M885.0 314.2h0M885.2 311.9h0M885.5 308.6h0M885.8 309.3h0M886.0 309.9h0M886.3 309.8h0M886.6 310.3h0M886.8 308.6h0M887.1 308.0h0M887.4 305.7h0M887.7 308.1h0M887.9 310.9h0M888.2 309.2h0M888.5 309.4h0M888.7 306.1h0M889.0 304.7h0M889.3 310.0h0M889.5 307.2h0M889.8 307.6h0M890.1 304.8h0M890.4 311.7h0M890.6 311.6h0M890.9 305.2h0M891.2 307.6h0M891.4 308.3h0M891.7 309.6h0M892.0 310.5h0M892.2 308.6h0M892.5 308.5h0M892.8 309.9h0M893.1 305.3h0M893.3 308.5h0M893.6 308.7h0M893.9 309.3h0M894.1 306.7h0M894.4 307.4h0M894.7 306.4h0M894.9 308.4h0M895.2 306.6h0M895.5 313.7h0M895.8 307.4h0M896.0 311.3h0M896.3 307.5h0M896.6 307.9h0M896.8 310.5h0M897.1 308.2h0M897.4 313.1h0M897.6 309.6h0M897.9 305.2h0M898.2 311.4h0M898.5 303.0h0M898.7 308.0h0M899.0 307.0h0M899.3 308.8h0M899.5 307.1h0M899.8 307.8h0M900.1 307.9h0M900.3 310.2h0M900.6 306.8h0M900.9 308.0h0M901.2 313.3h0M901.4 312.8h0M901.7 311.1h0M902.0 308.8h0M902.2 307.5h0M902.5 308.9h0M902.8 306.0h0M903.0 311.0h0M903.3 307.2h0M903.6 304.4h0M903.9 310.8h0M904.1 311.7h0M904.4 310.6h0M904.7 310.0h0M904.9 309.7h0M905.2 311.8h0M905.5 311.4h0M905.7 305.6h0M906.0 309.9h0M906.3 308.6h0M906.6 312.0h0M906.8 308.1h0M907.1 308.0h0M907.4 305.4h0M907.6 308.8h0M907.9 309.4h0M908.2 311.6h0M908.4 308.4h0M908.7 310.6h0M909.0 313.0h0M909.3 306.3h0M909.5 310.9h0M909.8 308.7h0M910.1 305.3h0M910.3 307.1h0M910.6 308.8h0M910.9 306.2h0M911.1 304.1h0M911.4 310.1h0M911.7 308.7h0M912.0 308.1h0M912.2 312.1h0M912.5 308.6h0M912.8 308.0h0M913.0 306.5h0M913.3 310.1h0M913.6 309.5h0M913.8 309.4h0M914.1 308.1h0M914.4 307.6h0M914.7 302.9h0M914.9 309.5h0M915.2 309.5h0M915.5 310.5h0M915.7 310.5h0M916.0 313.0h0M916.3 307.9h0M916.5 311.3h0M916.8 307.1h0M917.1 316.4h0M917.4 307.3h0M917.6 310.0h0M917.9 304.5h0M918.2 311.3h0M918.4 305.8h0M918.7 299.3h0M919.0 310.9h0M919.2 313.0h0M919.5 315.7h0M919.8 310.2h0M920.1 311.4h0M920.3 308.1h0M920.6 314.3h0M920.9 305.7h0M921.1 306.8h0M921.4 315.5h0M921.7 304.3h0M921.9 314.9h0M922.2 307.4h0M922.5 310.4h0M922.8 309.0h0M923.0 303.4h0M923.3 303.2h0M923.6 299.5h0M923.8 319.3h0M924.1 314.1h0M924.4 302.5h0M924.6 306.9h0M924.9 322.0h0M925.2 309.4h0M925.5 308.8h0M925.7 306.2h0M926.0 308.6h0M926.3 304.3h0M926.5 298.9h0M926.8 308.7h0M927.1 308.4h0M927.3 312.4h0M927.6 308.4h0M927.9 300.9h0M928.2 313.2h0M928.4 309.8h0M928.7 308.9h0M929.0 311.5h0M929.2 313.8h0M929.5 305.5h0M929.8 308.4h0M930.0 308.3h0M930.3 307.5h0M930.6 310.3h0M930.9 310.0h0M931.1 305.8h0M931.4 311.9h0M931.7 312.6h0M931.9 308.6h0M932.2 308.2h0M932.5 305.1h0M932.7 308.7h0M933.0 309.3h0M933.3 306.9h0M933.6 305.9h0M933.8 305.3h0M934.1 306.9h0M934.4 309.8h0M934.6 308.7h0M934.9 308.8h0M935.2 307.8h0M935.4 311.8h0M935.7 310.7h0M936.0 308.9h0M936.3 306.4h0M936.5 304.9h0M936.8 309.9h0M937.1 308.9h0M937.3 309.9h0M937.6 313.0h0M937.9 311.4h0M938.1 305.4h0M938.4 308.4h0M938.7 307.6h0M939.0 311.7h0M939.2 307.9h0M939.5 309.1h0M939.8 310.0h0M940.0 304.2h0M940.3 313.0h0M940.6 309.4h0M940.8 308.4h0M941.1 306.2h0M941.4 306.7h0M941.7 307.2h0M941.9 308.8h0M942.2 308.5h0M942.5 309.3h0M942.7 310.4h0M943.0 307.0h0M943.3 309.8h0M943.5 303.4h0M943.8 310.2h0M944.1 313.6h0M944.4 311.0h0M944.6 312.9h0M944.9 309.9h0M945.2 306.2h0M945.4 306.9h0M945.7 316.3h0M946.0 307.4h0M946.2 306.3h0M946.5 308.9h0M946.8 304.2h0M947.1 302.7h0M947.3 309.4h0M947.6 307.8h0M947.9 302.1h0M948.1 304.9h0M948.4 306.7h0M948.7 314.4h0M949.0 308.5h0M949.2 308.9h0M949.5 310.6h0M949.8 303.3h0M950.0 308.2h0M950.3 306.3h0M950.6 310.2h0M950.8 308.7h0M951.1 313.0h0M951.4 308.6h0M951.7 313.0h0M951.9 303.9h0M952.2 311.0h0M952.5 306.7h0M952.7 304.5h0M953.0 309.2h0M953.3 307.6h0M953.5 307.0h0M953.8 303.9h0M954.1 308.7h0M954.4 305.2h0M954.6 308.0h0M954.9 309.1h0M955.2 303.5h0M955.4 307.0h0M955.7 308.4h0M956.0 306.7h0M956.2 301.1h0M956.5 309.8h0M956.8 313.2h0M957.1 304.3h0M957.3 310.8h0M957.6 309.4h0M957.9 315.8h0M958.1 307.1h0M958.4 306.9h0M958.7 308.0h0M958.9 309.5h0M959.2 303.8h0M959.5 305.2h0M959.8 307.7h0M960.0 310.3h0M960.3 307.3h0M960.6 309.0h0M960.8 306.9h0M961.1 301.2h0M961.4 305.2h0M961.6 310.1h0M961.9 309.0h0M962.2 310.6h0M962.5 310.6h0M962.7 306.2h0M963.0 306.7h0M963.3 309.7h0M963.5 314.0h0M963.8 313.6h0M964.1 307.9h0M964.3 307.3h0M964.6 308.4h0M964.9 309.0h0M965.2 306.3h0M965.4 310.3h0M965.7 313.3h0M966.0 308.9h0M966.2 310.5h0M966.5 310.9h0M966.8 305.3h0M967.0 307.9h0M967.3 306.6h0M967.6 312.9h0M967.9 310.4h0M968.1 310.4h0M968.4 306.7h0M968.7 314.6h0M968.9 308.9h0M969.2 316.1h0M969.5 307.9h0M969.7 309.5h0M970.0 307.9h0M970.3 315.7h0M970.6 310.2h0M970.8 310.1h0M971.1 310.2h0M971.4 300.4h0M971.6 309.0h0M971.9 306.7h0M972.2 303.2h0M972.4 314.2h0M972.7 308.7h0M973.0 308.8h0M973.3 305.1h0M973.5 310.3h0M973.8 306.9h0M974.1 306.3h0M974.3 302.5h0M974.6 308.3h0M974.9 311.5h0M975.1 319.5h0M975.4 306.6h0M975.7 306.9h0M976.0 310.6h0M976.2 307.3h0M976.5 304.3h0M976.8 307.8h0M977.0 306.0h0M977.3 312.9h0M977.6 306.4h0M977.8 310.3h0M978.1 306.9h0M978.4 310.2h0M978.7 300.7h0M978.9 310.9h0M979.2 311.6h0M979.5 309.2h0M979.7 306.5h0M980.0 307.0h0M980.3 311.3h0M980.5 310.7h0M980.8 307.5h0M981.1 308.1h0M981.4 305.6h0M981.6 308.6h0M981.9 306.8h0M982.2 309.2h0M982.4 306.9h0M982.7 305.1h0M983.0 306.7h0M983.2 307.8h0M983.5 304.2h0M983.8 306.8h0M984.1 313.8h0M984.3 308.3h0M984.6 308.2h0M984.9 308.2h0M985.1 308.4h0M985.4 307.8h0M985.7 309.4h0M985.9 305.5h0M986.2 303.4h0M986.5 310.8h0M986.8 310.1h0M987.0 307.1h0M987.3 309.8h0M987.6 308.9h0M987.8 308.2h0M988.1 308.2h0M988.4 307.3h0M988.6 316.3h0M988.9 312.5h0M989.2 308.6h0M989.5 314.6h0M989.7 307.5h0M990.0 315.8h0M990.3 313.3h0M990.5 310.1h0M990.8 307.1h0M991.1 309.1h0M991.3 304.5h0M991.6 307.4h0M991.9 311.3h0M992.2 308.1h0M992.4 307.1h0M992.7 312.5h0M993.0 307.5h0M993.2 315.8h0M993.5 309.9h0M993.8 306.8h0M994.0 311.1h0M994.3 306.2h0M994.6 307.2h0M994.9 313.2h0M995.1 306.1h0M995.4 311.1h0M995.7 315.9h0M995.9 311.9h0M996.2 310.9h0M996.5 306.9h0M996.7 313.2h0M997.0 312.3h0M997.3 308.8h0M997.6 302.2h0M997.8 307.8h0M998.1 309.4h0M998.4 304.4h0M998.6 304.5h0M998.9 299.9h0M999.2 310.0h0M999.4 307.7h0M999.7 307.5h0M1000.0 308.5h0M1000.3 307.7h0M1000.5 310.8h0M1000.8 311.1h0M1001.1 314.7h0M1001.3 304.3h0M1001.6 308.4h0M1001.9 309.2h0M1002.1 310.3h0M1002.4 304.7h0M1002.7 307.7h0M1003.0 308.1h0M1003.2 304.4h0M1003.5 306.8h0M1003.8 313.8h0M1004.0 307.4h0M1004.3 305.3h0M1004.6 318.4h0M1004.8 311.6h0M1005.1 308.7h0M1005.4 309.8h0M1005.7 303.9h0M1005.9 309.0h0M1006.2 301.2h0M1006.5 311.8h0M1006.7 308.8h0M1007.0 309.0h0M1007.3 305.3h0M1007.5 304.8h0M1007.8 318.3h0M1008.1 310.9h0M1008.4 307.1h0M1008.6 311.8h0M1008.9 302.6h0M1009.2 308.2h0M1009.4 309.9h0M1009.7 303.2h0M1010.0 313.1h0M1010.2 305.2h0M1010.5 306.0h0M1010.8 310.4h0M1011.1 310.1h0M1011.3 307.1h0M1011.6 309.5h0M1011.9 308.6h0M1012.1 310.0h0M1012.4 303.9h0M1012.7 307.9h0M1012.9 300.9h0M1013.2 307.1h0M1013.5 302.8h0M1013.8 305.7h0M1014.0 311.0h0M1014.3 306.8h0M1014.6 305.3h0M1014.8 305.5h0M1015.1 306.3h0M1015.4 312.6h0M1015.6 313.1h0M1015.9 306.8h0M1016.2 310.7h0M1016.5 306.8h0M1016.7 309.8h0M1017.0 312.8h0M1017.3 308.4h0M1017.5 312.3h0M1017.8 308.0h0M1018.1 306.6h0M1018.3 310.4h0M1018.6 312.9h0M1018.9 309.1h0M1019.2 306.3h0M1019.4 309.6h0M1019.7 304.7h0M1020.0 308.2h0M1020.2 309.1h0M1020.5 310.8h0M1020.8 300.2h0M1021.0 311.9h0M1021.3 308.3h0M1021.6 308.1h0M1021.9 307.8h0M1022.1 315.3h0M1022.4 310.1h0M1022.7 310.1h0M1022.9 308.8h0M1023.2 309.4h0M1023.5 306.2h0M1023.7 308.4h0M1024.0 308.7h0M1024.3 310.1h0M1024.6 308.6h0M1024.8 306.5h0M1025.1 305.5h0M1025.4 306.4h0M1025.6 306.4h0M1025.9 306.1h0M1026.2 305.4h0M1026.4 308.7h0M1026.7 307.2h0M1027.0 306.4h0M1027.3 317.0h0M1027.5 310.7h0M1027.8 313.6h0M1028.1 313.1h0M1028.3 304.6h0M1028.6 310.4h0M1028.9 320.7h0M1029.1 307.3h0M1029.4 308.2h0M1029.7 313.0h0M1030.0 317.3h0M1030.2 308.6h0M1030.5 312.8h0M1030.8 310.9h0M1031.0 305.9h0M1031.3 306.2h0M1031.6 311.4h0M1031.9 313.3h0M1032.1 306.7h0M1032.4 306.0h0M1032.7 313.9h0M1032.9 307.4h0M1033.2 305.8h0M1033.5 300.6h0M1033.7 306.4h0M1034.0 306.1h0M1034.3 317.3h0M1034.6 306.8h0M1034.8 310.7h0M1035.1 305.6h0M1035.4 317.2h0M1035.6 307.3h0M1035.9 310.0h0M1036.2 303.5h0M1036.4 311.4h0M1036.7 300.3h0M1037.0 310.0h0M1037.3 309.6h0M1037.5 308.3h0M1037.8 310.4h0M1038.1 310.1h0M1038.3 316.9h0M1038.6 307.6h0M1038.9 309.9h0M1039.1 307.2h0M1039.4 310.3h0M1039.7 308.6h0M1040.0 308.7h0M1040.2 308.7h0M1040.5 309.5h0M1040.8 307.1h0M1041.0 307.8h0M1041.3 312.2h0M1041.6 308.0h0M1041.8 310.7h0M1042.1 313.5h0M1042.4 310.6h0M1042.7 303.8h0M1042.9 309.6h0M1043.2 312.1h0M1043.5 310.5h0M1043.7 313.3h0M1044.0 305.8h0M1044.3 305.7h0M1044.5 306.2h0M1044.8 307.6h0M1045.1 311.0h0M1045.4 310.4h0M1045.6 305.7h0M1045.9 304.8h0M1046.2 305.1h0M1046.4 310.0h0M1046.7 312.5h0M1047.0 310.0h0M1047.2 307.4h0M1047.5 305.8h0M1047.8 305.2h0M1048.1 308.9h0M1048.3 302.0h0M1048.6 309.7h0M1048.9 309.7h0M1049.1 308.2h0M1049.4 313.5h0M1049.7 309.3h0M1049.9 301.4h0M1050.2 313.2h0M1050.5 309.0h0M1050.8 312.6h0M1051.0 305.3h0M1051.3 304.3h0M1051.6 311.9h0M1051.8 308.7h0M1052.1 310.1h0M1052.4 309.6h0M1052.6 304.5h0M1052.9 296.1h0M1053.2 308.0h0M1053.5 308.5h0M1053.7 307.3h0M1054.0 307.3h0M1054.3 306.5h0M1054.5 309.0h0M1054.8 309.6h0M1055.1 301.4h0M1055.3 320.3h0M1055.6 303.8h0M1055.9 311.2h0M1056.2 302.6h0M1056.4 311.0h0M1056.7 297.2h0M1057.0 305.0h0M1057.2 312.3h0M1057.5 304.8h0M1057.8 315.6h0M1058.0 315.8h0M1058.3 307.0h0M1058.6 301.0h0M1058.9 310.7h0M1059.1 303.7h0M1059.4 303.9h0M1059.7 307.1h0M1059.9 294.9h0M1060.2 310.2h0M1060.5 308.1h0M1060.7 306.3h0M1061.0 300.6h0M1061.3 310.0h0M1061.6 317.2h0M1061.8 305.4h0M1062.1 315.1h0M1062.4 312.5h0M1062.6 307.5h0M1062.9 306.6h0M1063.2 316.3h0M1063.4 309.4h0M1063.7 304.1h0M1064.0 304.1h0M1064.3 309.2h0M1064.5 303.9h0M1064.8 310.1h0M1065.1 308.2h0M1065.3 311.0h0M1065.6 308.0h0M1065.9 303.1h0M1066.1 306.3h0M1066.4 308.6h0M1066.7 310.8h0M1067.0 312.6h0M1067.2 316.9h0M1067.5 308.7h0M1067.8 309.4h0M1068.0 302.0h0M1068.3 312.1h0M1068.6 308.4h0M1068.8 306.5h0M1069.1 313.8h0M1069.4 307.7h0M1069.7 307.6h0M1069.9 313.2h0M1070.2 310.7h0M1070.5 308.1h0M1070.7 304.2h0M1071.0 308.8h0M1071.3 307.7h0M1071.5 309.2h0M1071.8 307.4h0M1072.1 310.8h0M1072.4 309.3h0M1072.6 310.3h0M1072.9 310.7h0M1073.2 310.4h0M1073.4 309.7h0M1073.7 307.8h0M1074.0 310.1h0M1074.2 308.9h0M1074.5 312.7h0M1074.8 307.4h0M1075.1 308.0h0M1075.3 307.4h0M1075.6 309.8h0M1075.9 308.0h0M1076.1 312.0h0M1076.4 309.1h0M1076.7 310.5h0M1076.9 307.9h0M1077.2 312.7h0M1077.5 307.2h0M1077.8 306.9h0M1078.0 306.4h0M1078.3 310.9h0M1078.6 310.1h0M1078.8 308.1h0M1079.1 306.2h0M1079.4 307.6h0M1079.6 308.7h0M1079.9 309.8h0M1080.2 310.0h0M1080.5 309.7h0M1080.7 308.8h0M1081.0 307.9h0M1081.3 304.8h0M1081.5 310.5h0M1081.8 307.3h0M1082.1 308.9h0M1082.3 310.3h0M1082.6 306.2h0M1082.9 308.2h0M1083.2 309.2h0M1083.4 307.2h0M1083.7 307.0h0M1084.0 310.5h0M1084.2 307.7h0M1084.5 308.1h0M1084.8 310.3h0M1085.0 308.3h0M1085.3 310.2h0M1085.6 305.7h0M1085.9 309.3h0M1086.1 311.4h0M1086.4 306.9h0M1086.7 305.1h0M1086.9 309.2h0M1087.2 310.7h0M1087.5 311.1h0M1087.7 306.9h0M1088.0 306.5h0M1088.3 305.0h0M1088.6 310.9h0M1088.8 311.4h0M1089.1 309.1h0M1089.4 309.3h0M1089.6 307.5h0M1089.9 309.2h0M1090.2 307.8h0M1090.4 308.7h0M1090.7 307.1h0M1091.0 307.9h0M1091.3 309.2h0M1091.5 309.4h0M1091.8 306.5h0M1092.1 312.0h0M1092.3 310.8h0M1092.6 308.9h0M1092.9 310.0h0M1093.1 307.1h0M1093.4 309.6h0M1093.7 311.3h0M1094.0 306.6h0M1094.2 307.8h0M1094.5 307.7h0M1094.8 309.1h0M1095.0 309.0h0M1095.3 306.9h0M1095.6 308.5h0M1095.8 304.9h0M1096.1 310.0h0M1096.4 307.6h0M1096.7 309.4h0M1096.9 308.0h0M1097.2 309.1h0M1097.5 310.4h0M1097.7 308.0h0M1098.0 307.3h0M1098.3 308.3h0M1098.5 308.7h0M1098.8 309.9h0M1099.1 307.2h0M1099.4 308.8h0M1099.6 310.5h0M1099.9 308.5h0M1100.2 308.8h0M1100.4 309.1h0M1100.7 309.4h0M1101.0 309.8h0M1101.2 309.3h0M1101.5 305.8h0M1101.8 308.9h0M1102.1 311.1h0M1102.3 307.1h0M1102.6 309.3h0M1102.9 308.3h0M1103.1 308.6h0M1103.4 310.6h0M1103.7 309.5h0M1103.9 308.2h0M1104.2 307.4h0M1104.5 311.0h0M1104.8 307.4h0M1105.0 308.4h0M1105.3 309.7h0M1105.6 308.8h0M1105.8 309.1h0M1106.1 308.6h0M1106.4 304.4h0M1106.6 308.8h0M1106.9 310.8h0M1107.2 303.7h0M1107.5 310.2h0M1107.7 304.6h0M1108.0 305.8h0M1108.3 312.2h0M1108.5 317.7h0M1108.8 307.6h0M1109.1 308.2h0M1109.3 309.0h0M1109.6 308.2h0M1109.9 310.0h0M1110.2 306.2h0M1110.4 307.7h0M1110.7 305.4h0M1111.0 309.1h0M1111.2 303.2h0M1111.5 305.1h0M1111.8 317.5h0M1112.1 314.1h0M1112.3 309.7h0M1112.6 307.5h0M1112.9 311.6h0M1113.1 308.8h0M1113.4 303.3h0M1113.7 309.1h0M1113.9 310.8h0M1114.2 304.5h0M1114.5 301.5h0M1114.8 308.4h0M1115.0 301.2h0M1115.3 306.1h0M1115.6 304.1h0M1115.8 307.5h0M1116.1 310.5h0M1116.4 306.1h0M1116.6 308.2h0M1116.9 308.7h0M1117.2 307.7h0M1117.5 305.1h0M1117.7 308.4h0M1118.0 307.2h0M1118.3 315.7h0M1118.5 308.4h0M1118.8 312.8h0M1119.1 308.0h0M1119.3 311.8h0M1119.6 309.4h0M1119.9 308.2h0M1120.2 312.0h0M1120.4 309.0h0M1120.7 309.8h0M1121.0 309.6h0M1121.2 308.7h0M1121.5 313.4h0M1121.8 302.7h0M1122.0 307.7h0M1122.3 313.9h0M1122.6 305.8h0M1122.9 307.9h0M1123.1 310.2h0M1123.4 314.6h0M1123.7 310.3h0M1123.9 308.0h0M1124.2 306.6h0M1124.5 306.7h0M1124.7 309.8h0M1125.0 306.6h0M1125.3 307.9h0M1125.6 308.6h0M1125.8 308.4h0M1126.1 309.4h0M1126.4 311.2h0M1126.6 311.5h0M1126.9 309.5h0M1127.2 309.5h0M1127.4 312.4h0M1127.7 307.5h0M1128.0 310.5h0M1128.3 310.5h0M1128.5 308.2h0M1128.8 313.1h0M1129.1 307.7h0M1129.3 309.6h0M1129.6 309.8h0M1129.9 311.1h0M1130.1 305.2h0M1130.4 310.8h0M1130.7 312.6h0M1131.0 308.3h0M1131.2 306.3h0M1131.5 308.7h0M1131.8 307.8h0M1132.0 309.8h0M1132.3 305.4h0M1132.6 308.0h0M1132.8 308.6h0M1133.1 311.8h0M1133.4 304.8h0M1133.7 311.9h0M1133.9 305.8h0M1134.2 308.4h0M1134.5 303.8h0M1134.7 304.1h0M1135.0 309.5h0M1135.3 312.1h0M1135.5 309.4h0M1135.8 317.2h0M1136.1 312.7h0M1136.4 314.1h0M1136.6 315.9h0M1136.9 311.7h0M1137.2 310.0h0M1137.4 307.4h0M1137.7 309.0h0M1138.0 317.1h0M1138.2 307.7h0M1138.5 307.0h0M1138.8 306.8h0M1139.1 305.6h0M1139.3 308.1h0M1139.6 307.6h0M1139.9 310.3h0M1140.1 305.6h0M1140.4 304.6h0M1140.7 304.1h0M1140.9 308.3h0M1141.2 308.1h0M1141.5 311.5h0M1141.8 316.6h0M1142.0 310.4h0M1142.3 306.9h0M1142.6 303.5h0M1142.8 308.4h0M1143.1 306.5h0M1143.4 309.0h0M1143.6 306.9h0M1143.9 309.8h0M1144.2 305.7h0M1144.5 312.3h0M1144.7 311.5h0M1145.0 309.3h0M1145.3 305.6h0M1145.5 306.5h0M1145.8 305.8h0M1146.1 308.8h0M1146.3 305.6h0M1146.6 306.6h0M1146.9 309.8h0M1147.2 307.0h0M1147.4 310.1h0M1147.7 304.9h0M1148.0 312.7h0M1148.2 309.0h0M1148.5 308.9h0M1148.8 308.3h0M1149.0 306.7h0M1149.3 306.1h0M1149.6 309.6h0M1149.9 307.7h0M1150.1 309.5h0M1150.4 311.5h0M1150.7 309.0h0M1150.9 309.8h0M1151.2 308.3h0M1151.5 307.5h0M1151.7 309.0h0M1152.0 311.5h0M1152.3 309.8h0M1152.6 309.2h0M1152.8 307.8h0M1153.1 308.6h0M1153.4 310.9h0M1153.6 309.2h0M1153.9 307.2h0M1154.2 307.9h0M1154.4 309.4h0M1154.7 309.5h0M1155.0 306.0h0M1155.3 309.1h0M1155.5 308.2h0M1155.8 305.3h0M1156.1 306.4h0M1156.3 308.4h0M1156.6 307.2h0M1156.9 309.0h0M1157.1 309.1h0M1157.4 308.6h0M1157.7 308.2h0M1158.0 309.5h0M1158.2 306.8h0M1158.5 305.8h0M1158.8 309.2h0M1159.0 310.5h0M1159.3 307.9h0M1159.6 310.2h0M1159.8 309.8h0M1160.1 307.8h0M1160.4 309.2h0M1160.7 310.7h0M1160.9 307.7h0M1161.2 309.4h0M1161.5 309.4h0M1161.7 307.7h0M1162.0 310.2h0M1162.3 308.0h0M1162.5 310.0h0M1162.8 309.0h0M1163.1 307.9h0M1163.4 308.5h0M1163.6 307.5h0M1163.9 311.9h0M1164.2 307.5h0M1164.4 307.8h0M1164.7 310.4h0M1165.0 309.8h0M1165.2 309.6h0M1165.5 307.3h0M1165.8 307.3h0M1166.1 308.5h0M1166.3 309.0h0M1166.6 310.0h0M1166.9 310.0h0M1167.1 309.3h0M1167.4 309.8h0M1167.7 306.5h0M1167.9 306.7h0M1168.2 307.6h0M1168.5 308.6h0M1168.8 307.7h0M1169.0 308.1h0M1169.3 308.9h0M1169.6 307.9h0M1169.8 308.6h0M1170.1 310.2h0M1170.4 309.4h0M1170.6 308.2h0M1170.9 309.0h0M1171.2 309.4h0M1171.5 309.0h0M1171.7 309.9h0M1172.0 306.8h0M1172.3 310.1h0M1172.5 307.4h0M1172.8 309.6h0M1173.1 306.8h0M1173.3 310.2h0M1173.6 309.9h0M1173.9 307.9h0M1174.2 309.6h0M1174.4 308.2h0M1174.7 310.4h0M1175.0 308.5h0M1175.2 308.1h0M1175.5 307.5h0M1175.8 308.6h0M1176.0 309.4h0M1176.3 309.7h0M1176.6 307.8h0M1176.9 308.2h0M1177.1 307.2h0M1177.4 307.8h0M1177.7 308.5h0M1177.9 309.3h0M1178.2 309.8h0M1178.5 308.0h0M1178.7 307.1h0M1179.0 310.9h0M1179.3 308.7h0M1179.6 308.2h0M1179.8 308.9h0M1180.1 308.6h0M1180.4 309.7h0M1180.6 309.5h0M1180.9 307.1h0M1181.2 308.2h0M1181.4 309.6h0M1181.7 308.4h0M1182.0 309.8h0M1182.3 307.3h0M1182.5 310.7h0M1182.8 309.2h0M1183.1 306.6h0M1183.3 310.2h0M1183.6 307.4h0M1183.9 309.0h0M1184.1 309.0h0M1184.4 309.3h0M1184.7 309.6h0M1185.0 306.1h0M1185.2 308.0h0M1185.5 306.8h0M1185.8 307.6h0M1186.0 309.0h0M1186.3 314.5h0M1186.6 308.7h0M1186.8 306.7h0M1187.1 311.2h0M1187.4 310.6h0M1187.7 311.3h0M1187.9 311.2h0M1188.2 308.6h0M1188.5 309.9h0M1188.7 312.7h0M1189.0 308.5h0M1189.3 308.5h0M1189.5 309.2h0M1189.8 307.8h0M1190.1 306.8h0M1190.4 309.6h0M1190.6 307.6h0M1190.9 307.8h0M1191.2 305.1h0M1191.4 309.4h0M1191.7 310.2h0M1192.0 303.9h0M1192.3 309.4h0M1192.5 307.6h0M1192.8 308.8h0M1193.1 307.7h0M1193.3 310.9h0M1193.6 311.2h0M1193.9 311.4h0M1194.1 314.0h0M1194.4 313.1h0M1194.7 312.6h0M1195.0 311.0h0M1195.2 309.7h0M1195.5 313.0h0M1195.8 302.6h0M1196.0 306.6h0M1196.3 312.7h0M1196.6 311.2h0M1196.8 316.8h0M1197.1 304.3h0M1197.4 307.7h0M1197.7 308.2h0M1197.9 312.3h0M1198.2 305.1h0M1198.5 316.1h0M1198.7 314.3h0M1199.0 310.3h0M1199.3 305.0h0M1199.5 306.6h0M1199.8 306.4h0M1200.1 312.2h0M1200.4 302.6h0M1200.6 305.5h0M1200.9 315.3h0M1201.2 303.1h0M1201.4 316.0h0M1201.7 309.2h0M1202.0 305.8h0M1202.2 316.4h0M1202.5 306.0h0M1202.8 310.6h0M1203.1 321.9h0M1203.3 302.0h0M1203.6 307.5h0M1203.9 306.6h0M1204.1 308.4h0M1204.4 313.5h0M1204.7 314.3h0M1204.9 307.1h0M1205.2 304.6h0M1205.5 309.0h0M1205.8 316.6h0M1206.0 309.0h0M1206.3 306.2h0M1206.6 308.6h0M1206.8 307.0h0M1207.1 315.7h0M1207.4 307.0h0M1207.6 308.2h0M1207.9 304.3h0M1208.2 312.9h0M1208.5 304.9h0M1208.7 310.2h0M1209.0 307.1h0M1209.3 313.2h0M1209.5 305.3h0M1209.8 310.7h0M1210.1 311.4h0M1210.3 300.3h0M1210.6 312.2h0M1210.9 309.8h0M1211.2 309.8h0M1211.4 308.6h0M1211.7 313.1h0M1212.0 311.4h0M1212.2 304.2h0M1212.5 305.6h0M1212.8 306.4h0M1213.0 308.2h0M1213.3 305.5h0M1213.6 307.4h0M1213.9 310.6h0M1214.1 311.0h0M1214.4 304.8h0M1214.7 310.1h0M1214.9 309.2h0M1215.2 306.5h0M1215.5 315.4h0M1215.7 306.3h0M1216.0 316.1h0M1216.3 306.6h0M1216.6 309.1h0M1216.8 306.0h0M1217.1 310.2h0M1217.4 315.8h0M1217.6 301.8h0M1217.9 310.5h0M1218.2 312.4h0M1218.4 309.1h0M1218.7 309.1h0M1219.0 306.6h0M1219.3 307.2h0M1219.5 312.8h0M1219.8 307.6h0M1220.1 315.9h0M1220.3 308.1h0M1220.6 300.3h0M1220.9 306.4h0M1221.1 312.8h0M1221.4 311.8h0M1221.7 310.2h0M1222.0 307.6h0M1222.2 308.1h0M1222.5 315.2h0M1222.8 319.8h0M1223.0 306.8h0M1223.3 309.1h0M1223.6 307.9h0M1223.8 308.6h0M1224.1 310.5h0M1224.4 308.0h0M1224.7 302.2h0M1224.9 315.1h0M1225.2 309.9h0M1225.5 322.6h0M1225.7 316.0h0M1226.0 311.9h0M1226.3 297.6h0M1226.5 307.9h0M1226.8 313.8h0M1227.1 304.8h0M1227.4 301.7h0M1227.6 310.3h0M1227.9 307.8h0M1228.2 306.6h0M1228.4 307.5h0M1228.7 306.4h0M1229.0 309.6h0M1229.2 308.6h0M1229.5 308.8h0M1229.8 310.6h0M1230.1 310.8h0M1230.3 309.4h0M1230.6 307.2h0M1230.9 307.6h0M1231.1 306.8h0M1231.4 309.1h0M1231.7 310.5h0M1231.9 310.5h0M1232.2 309.6h0M1232.5 299.9h0M1232.8 312.2h0M1233.0 306.8h0M1233.3 309.0h0M1233.6 307.7h0M1233.8 310.6h0M1234.1 306.4h0M1234.4 307.8h0M1234.6 308.6h0M1234.9 307.0h0M1235.2 305.1h0M1235.5 305.6h0M1235.7 307.1h0M1236.0 307.2h0M1236.3 305.0h0M1236.5 309.6h0M1236.8 307.7h0M1237.1 307.7h0M1237.3 308.5h0M1237.6 306.2h0M1237.9 302.6h0M1238.2 313.7h0M1238.4 310.2h0M1238.7 307.0h0M1239.0 311.5h0M1239.2 309.9h0M1239.5 303.0h0M1239.8 306.2h0M1240.0 309.6h0M1240.3 308.9h0M1240.6 306.6h0M1240.9 307.8h0M1241.1 300.2h0M1241.4 313.9h0M1241.7 305.7h0M1241.9 308.4h0M1242.2 308.7h0M1242.5 312.3h0M1242.7 312.1h0M1243.0 309.5h0M1243.3 314.5h0M1243.6 313.5h0M1243.8 304.6h0M1244.1 311.0h0M1244.4 315.1h0M1244.6 307.2h0M1244.9 317.1h0M1245.2 310.6h0M1245.4 307.3h0M1245.7 312.1h0M1246.0 313.0h0M1246.3 308.9h0M1246.5 319.1h0M1246.8 308.1h0M1247.1 306.6h0M1247.3 309.9h0M1247.6 309.6h0M1247.9 305.2h0M1248.1 317.0h0M1248.4 314.2h0M1248.7 309.1h0M1249.0 319.1h0M1249.2 324.0h0M1249.5 308.9h0M1249.8 311.0h0M1250.0 301.8h0M1250.3 313.7h0M1250.6 302.6h0M1250.8 309.4h0M1251.1 313.3h0M1251.4 310.8h0M1251.7 310.8h0M1251.9 300.7h0M1252.2 308.9h0M1252.5 306.0h0M1252.7 313.1h0M1253.0 311.9h0M1253.3 306.0h0M1253.5 304.2h0M1253.8 307.8h0M1254.1 310.0h0M1254.4 309.6h0M1254.6 307.1h0M1254.9 305.8h0M1255.2 307.2h0M1255.4 305.4h0M1255.7 307.1h0M1256.0 308.0h0M1256.2 312.8h0M1256.5 306.9h0M1256.8 308.5h0M1257.1 313.7h0M1257.3 304.1h0M1257.6 307.5h0M1257.9 305.2h0M1258.1 304.6h0M1258.4 319.9h0M1258.7 308.7h0M1258.9 310.8h0M1259.2 309.4h0M1259.5 310.5h0M1259.8 308.9h0M1260.0 308.0h0M1260.3 309.4h0M1260.6 308.8h0M1260.8 311.8h0M1261.1 308.4h0M1261.4 309.3h0M1261.6 308.6h0M1261.9 308.7h0M1262.2 306.5h0M1262.5 309.3h0M1262.7 311.4h0M1263.0 309.7h0M1263.3 306.9h0M1263.5 312.6h0M1263.8 307.8h0M1264.1 307.9h0M1264.3 311.8h0M1264.6 306.7h0M1264.9 308.9h0M1265.2 308.0h0M1265.4 311.9h0M1265.7 304.9h0M1266.0 310.6h0M1266.2 307.9h0M1266.5 308.8h0M1266.8 311.1h0M1267.0 308.9h0M1267.3 309.9h0M1267.6 306.8h0M1267.9 306.6h0M1268.1 309.0h0M1268.4 311.3h0M1268.7 308.8h0M1268.9 309.9h0M1269.2 310.4h0M1269.5 309.6h0M1269.7 311.0h0M1270.0 306.7h0M1270.3 309.9h0M1270.6 309.5h0M1270.8 306.6h0M1271.1 307.3h0M1271.4 309.6h0M1271.6 308.9h0M1271.9 306.2h0M1272.2 307.6h0M1272.4 311.8h0M1272.7 310.4h0M1273.0 308.9h0M1273.3 311.4h0M1273.5 306.9h0M1273.8 308.4h0M1274.1 310.6h0M1274.3 308.0h0M1274.6 306.4h0M1274.9 309.9h0M1275.2 311.9h0M1275.4 303.6h0M1275.7 309.0h0M1276.0 306.2h0M1276.2 308.1h0M1276.5 305.8h0M1276.8 314.2h0M1277.0 307.2h0M1277.3 309.3h0M1277.6 309.9h0M1277.9 309.0h0M1278.1 306.9h0M1278.4 305.0h0M1278.7 310.6h0M1278.9 310.7h0M1279.2 308.7h0M1279.5 301.5h0M1279.7 308.9h0M1280.0 312.2h0M1280.3 309.3h0M1280.6 309.9h0M1280.8 309.7h0M1281.1 305.6h0M1281.4 309.9h0M1281.6 308.1h0M1281.9 310.0h0M1282.2 311.8h0M1282.4 308.1h0M1282.7 308.5h0M1283.0 306.8h0M1283.3 310.6h0M1283.5 310.9h0M1283.8 300.1h0M1284.1 316.4h0M1284.3 315.1h0M1284.6 307.2h0M1284.9 308.0h0M1285.1 309.8h0M1285.4 307.1h0M1285.7 307.8h0M1286.0 306.1h0M1286.2 305.4h0M1286.5 308.0h0M1286.8 313.2h0M1287.0 302.6h0M1287.3 309.2h0M1287.6 309.3h0M1287.8 306.5h0M1288.1 307.7h0M1288.4 298.5h0M1288.7 301.9h0M1288.9 317.4h0M1289.2 306.8h0M1289.5 309.4h0M1289.7 312.3h0M1290.0 309.9h0M1290.3 311.1h0M1290.5 306.0h0M1290.8 312.4h0M1291.1 311.7h0M1291.4 300.5h0M1291.6 308.2h0M1291.9 307.2h0M1292.2 308.3h0M1292.4 308.9h0M1292.7 311.7h0M1293.0 306.3h0M1293.2 310.2h0M1293.5 304.3h0M1293.8 307.7h0M1294.1 313.9h0M1294.3 301.9h0M1294.6 305.1h0M1294.9 309.9h0M1295.1 312.3h0M1295.4 312.9h0M1295.7 306.6h0M1295.9 309.3h0M1296.2 309.0h0M1296.5 306.0h0M1296.8 311.0h0M1297.0 309.1h0M1297.3 305.4h0M1297.6 312.9h0M1297.8 308.8h0M1298.1 309.2h0M1298.4 300.4h0M1298.6 315.9h0M1298.9 313.8h0M1299.2 309.2h0M1299.5 304.4h0M1299.7 306.3h0M1300.0 308.4h0M1300.3 307.8h0M1300.5 308.1h0M1300.8 315.9h0M1301.1 310.5h0M1301.3 306.7h0M1301.6 291.2h0M1301.9 309.9h0M1302.2 309.3h0M1302.4 311.6h0M1302.7 308.9h0M1303.0 308.0h0M1303.2 308.3h0M1303.5 310.5h0M1303.8 311.9h0M1304.0 297.3h0M1304.3 316.1h0M1304.6 309.0h0M1304.9 307.7h0M1305.1 308.4h0M1305.4 309.5h0M1305.7 309.8h0M1305.9 304.4h0M1306.2 307.4h0M1306.5 309.1h0M1306.7 314.4h0M1307.0 303.5h0M1307.3 310.9h0M1307.6 311.0h0M1307.8 313.5h0M1308.1 308.5h0M1308.4 308.0h0M1308.6 303.2h0M1308.9 304.9h0M1309.2 308.1h0M1309.4 311.2h0M1309.7 309.6h0M1310.0 313.9h0M1310.3 308.6h0M1310.5 314.2h0M1310.8 308.7h0M1311.1 309.1h0M1311.3 311.1h0M1311.6 305.8h0M1311.9 308.1h0M1312.1 307.5h0M1312.4 307.5h0M1312.7 306.2h0M1313.0 309.8h0M1313.2 309.6h0M482.6 261.9h0M481.6 284.5h0M481.2 341.6h0M482.6 358.4h0M482.0 327.5h0M479.6 322.0h0M618.8 277.8h0M618.8 359.4h0M580.0 283.6h0M580.4 286.0h0M579.0 293.4h0M579.0 324.5h0M579.0 331.4h0M581.0 331.4h0M587.5 325.7h0M394.4 290.6h0M402.8 292.2h0M435.0 289.7h0M471.0 289.7h0M471.4 295.4h0M621.0 295.4h0M549.0 300.3h0M341.4 301.3h0M381.2 316.6h0M381.2 319.2h0M393.4 320.6h0M393.4 323.0h0M401.3 320.6h0M402.5 325.3h0M434.4 326.5h0M441.8 321.6h0M441.8 326.5h0M469.0 321.6h0M469.0 326.5h0M489.0 319.0h0M493.8 318.6h0M500.3 321.6h0M501.7 318.0h0M508.2 319.0h0M627.3 320.6h0M603.7 320.2h0M828.2 272.9h0M829.2 283.2h0M831.1 285.5h0M837.0 285.5h0M827.6 342.6h0M828.2 328.4h0M837.0 329.0h0M665.8 290.6h0M668.3 295.4h0M668.3 323.1h0M791.8 294.0h0M795.3 297.0h0M787.8 326.5h0M795.3 324.1h0M766.6 324.1h0M773.0 321.6h0M921.3 293.0h0M923.7 297.0h0M919.7 324.1h0M925.6 323.1h0M946.3 323.1h0M972.9 321.6h0M992.4 279.6h0M1007.1 280.8h0M1051.4 285.5h0M1015.6 290.6h0M1026.4 290.6h0M1136.7 292.6h0M1198.7 291.6h0M1187.9 297.0h0M1240.0 292.6h0M1286.9 289.7h0M1297.0 294.0h0M1281.4 327.5h0M1240.0 325.0h0M1186.5 322.0h0M1196.7 323.0h0M1212.5 324.0h0M1051.0 327.0h0M1013.6 325.5h0M1005.7 323.5h0M1031.3 324.5h0M1061.9 324.0h0M1070.7 321.6h0"/>
<polyline fill="none" stroke="#bebebe" stroke-width="2.3" stroke-linejoin="round" stroke-linecap="butt" points="340.6,763.5 341.8,760.2 342.9,758.3 343.9,761.2 344.8,766.5 346.2,776.7 347.7,785.4 348.5,787.8 349.3,788.9 350.5,785.1 351.7,776.0 352.6,757.8 353.5,733.6 354.5,711.3 355.4,693.6 356.2,683.7 357.1,679.0 358.2,683.3 359.4,693.6 360.4,714.5 361.3,740.6 362.5,768.0 363.7,783.0 364.7,782.4 365.8,780.7 366.5,774.1 367.2,764.2 368.0,752.9 368.8,745.3 369.7,743.6 370.5,743.0 371.4,753.0 372.4,771.2 373.5,801.7 374.7,821.9 375.7,821.6 376.6,820.7 377.4,807.2 378.3,783.0 379.4,741.8 380.6,700.6 381.8,666.8 383.0,648.4 384.1,647.3 385.3,646.9 386.1,666.2 387.0,700.6 387.9,740.6 388.9,780.7 389.8,818.1 390.7,841.9 391.8,848.7 392.9,851.3 393.8,842.7 394.7,825.4 396.1,782.4 397.6,735.9 399.1,699.3 400.6,678.3 401.9,674.9 403.2,673.5 404.3,686.1 405.3,707.7 407.1,742.6 408.9,773.6 410.0,788.1 411.2,797.1 411.9,799.3 412.6,800.2 413.7,794.8 414.7,785.4 415.9,775.1 417.1,766.5 418.9,761.3 420.6,755.9 421.8,747.3 423.0,735.9 424.8,713.3 426.5,699.0 427.7,700.3 428.9,703.7 430.0,722.0 431.2,747.7 432.0,760.7 432.9,771.2 433.8,780.9 434.8,785.8 435.6,784.6 436.4,781.8 437.1,776.2 437.8,768.9 438.6,760.6 439.5,754.8 440.6,751.7 441.8,750.5 443.3,754.0 444.9,758.3 445.7,759.1 446.5,759.5 447.5,757.4 448.4,753.6 449.2,750.1 450.1,746.5 451.2,741.0 452.4,737.8 453.4,738.7 454.3,740.6 455.7,748.8 457.1,756.6 458.3,758.6 459.5,759.5 460.6,757.4 461.8,753.6 463.6,746.3 465.4,740.6 466.5,739.5 467.7,739.0 469.1,740.6 470.5,744.2 472.1,750.9 473.6,759.5 475.0,767.9 476.4,773.6 477.6,774.8 478.8,775.2 479.7,772.4 480.7,766.5 481.8,754.0 483.0,740.6 484.0,732.9 484.9,728.9 485.6,728.9 486.3,728.9 487.6,737.7 488.9,752.4 490.2,767.1 491.5,776.0 492.7,775.4 493.8,774.1 495.3,761.2 496.7,740.6 497.8,721.9 499.0,710.0 500.2,709.5 501.4,709.3 502.8,724.0 504.2,747.7 506.0,773.2 507.7,790.1 508.7,792.6 509.6,793.6 510.7,789.9 511.7,783.0 513.9,764.9 516.0,747.7 518.6,735.0 521.1,728.9 522.1,728.9 523.0,728.9 524.6,734.7 526.1,743.0 527.9,747.0 529.6,751.2 531.0,757.8 532.4,766.5 533.9,779.6 535.3,788.2 536.2,788.2 537.2,788.2 538.3,773.1 539.5,747.7 541.3,708.7 543.0,684.8 544.3,684.5 545.6,684.4 547.0,709.8 548.5,752.4 549.9,794.6 551.3,821.9 552.5,824.9 553.6,826.1 554.8,805.2 556.0,771.2 557.8,726.3 559.5,695.9 560.5,691.0 561.4,688.9 562.2,691.8 563.1,698.3 564.2,717.8 565.4,743.0 566.6,768.1 567.8,784.2 568.7,786.4 569.6,787.3 570.8,782.5 571.9,773.6 573.9,750.3 575.9,734.3 577.1,734.3 578.2,734.3 580.0,743.9 581.8,753.6 582.9,753.6 584.1,753.6 585.5,752.4 586.9,751.2 588.5,751.4 590.0,751.7 591.2,752.9 592.4,754.8 593.9,758.5 595.4,761.1 596.5,760.3 597.5,758.3 598.6,753.5 599.7,747.7 600.7,742.8 601.8,740.2 603.0,740.7 604.1,741.8 605.9,745.1 607.7,748.2 609.1,748.7 610.5,749.4 612.0,753.0 613.5,757.1 614.5,758.2 615.4,758.8 617.4,755.4 619.4,751.9 621.2,754.5 623.0,758.3 623.9,759.8 624.8,760.6 625.9,759.6 627.0,757.1 628.4,747.7 629.8,735.9 631.1,727.5 632.4,723.0 633.6,725.7 634.7,731.2 636.7,746.1 638.7,761.8 640.5,771.9 642.3,777.1 643.3,777.1 644.4,777.1 646.6,764.1 648.9,746.5 650.6,739.4 652.4,735.9 653.3,736.8 654.3,738.8 655.7,746.7 657.1,757.1 658.3,764.5 659.5,770.1 660.0,771.7 660.6,772.4 661.5,770.6 662.3,766.5 663.2,757.1 664.2,745.3 665.3,731.9 666.5,723.0 667.5,721.0 668.4,720.2 669.3,722.2 670.3,726.5 671.7,737.3 673.1,750.1 674.5,761.1 675.9,768.9 677.1,771.8 678.3,773.1 679.2,772.4 680.2,770.8 682.2,760.9 684.2,750.1 685.0,747.7 685.8,746.5 687.7,748.9 689.6,751.2 691.0,746.6 692.4,738.3 693.6,730.8 694.8,724.2 695.5,721.4 696.2,719.9 697.0,721.6 697.8,725.3 698.9,737.3 699.9,752.4 700.9,763.6 701.8,771.2 703.0,774.9 704.2,776.4 705.1,773.9 706.1,768.9 707.1,759.8 708.2,750.1 709.4,741.6 710.5,737.1 711.5,737.3 712.4,737.8 713.8,742.2 715.2,748.9 716.5,754.0 717.8,758.3 719.0,761.4 720.2,763.0 721.4,762.7 722.5,761.8 724.2,756.6 725.8,750.1 727.0,747.0 728.2,745.3 729.1,745.5 730.1,745.8 731.5,748.8 732.9,752.4 734.1,754.0 735.3,754.8 736.4,753.6 737.6,751.2 738.8,748.6 740.0,745.3 741.5,737.9 743.0,732.9 744.0,732.9 744.9,732.9 746.0,739.6 747.0,750.1 748.2,758.9 749.4,764.2 750.1,764.7 750.8,764.9 752.8,758.8 754.8,751.7 755.6,750.9 756.4,750.5 757.4,753.0 758.3,757.1 759.3,761.1 760.2,764.2 761.1,765.8 762.1,766.5 762.8,765.4 763.5,763.0 764.8,755.9 766.1,747.7 767.5,739.9 768.9,735.5 769.7,735.3 770.6,735.2 772.1,739.1 773.6,745.3 774.8,749.2 776.0,752.4 777.2,754.8 778.3,756.4 779.5,757.2 780.7,757.6 781.9,757.2 783.0,756.4 784.6,753.8 786.1,750.5 787.3,748.3 788.5,747.0 789.5,747.0 790.6,747.0 791.5,749.1 792.5,752.4 793.4,755.4 794.3,757.1 795.4,756.9 796.5,756.4 798.0,751.9 799.5,746.5 800.5,744.9 801.4,744.2 802.6,746.7 803.8,750.5 804.9,753.7 806.1,755.5 806.9,755.5 807.8,755.5 808.9,753.9 810.0,752.4 812.1,752.6 814.2,752.9 815.4,751.5 816.6,748.9 818.2,743.3 819.9,739.5 821.1,740.4 822.2,742.5 823.4,747.8 824.6,754.8 825.8,761.1 826.9,765.4 827.9,766.5 828.8,767.0 829.8,765.7 830.7,763.0 831.8,758.6 832.8,753.6 833.8,749.5 834.7,746.5 836.2,744.5 837.8,743.7 839.0,743.8 840.1,744.2 841.8,746.9 843.4,751.2 845.3,757.0 847.2,761.4 848.0,762.0 848.8,762.3 850.0,761.2 851.2,759.0 853.0,754.7 854.7,750.1 855.9,747.7 857.1,745.3 859.1,738.3 861.1,733.6 862.0,733.6 863.0,733.6 863.8,735.9 864.6,740.6 865.7,749.5 866.7,759.5 867.8,769.2 868.9,774.8 869.8,774.4 870.7,773.6 871.9,767.1 873.1,757.1 874.5,745.6 875.9,737.1 876.7,735.0 877.6,734.0 878.5,735.4 879.4,738.3 880.6,743.7 881.8,750.1 883.0,756.0 884.2,760.6 885.3,763.4 886.5,764.7 887.4,764.4 888.4,763.7 889.8,760.0 891.2,754.8 892.4,750.7 893.6,747.7 895.1,746.0 896.6,745.3 897.8,745.9 899.0,747.0 900.4,749.4 901.8,751.7 902.7,752.5 903.7,752.9 904.9,750.9 906.0,747.7 907.2,744.6 908.4,742.5 909.5,742.0 910.5,741.8 911.2,743.0 911.9,745.3 913.0,749.7 914.0,754.8 915.0,759.6 915.9,763.0 916.8,763.8 917.6,764.2 918.5,762.5 919.5,759.5 921.0,754.3 922.5,750.5 923.5,749.9 924.4,749.6 925.2,752.0 926.1,755.9 926.9,759.3 927.7,761.8 928.6,763.4 929.6,764.2 930.4,762.6 931.2,759.5 932.6,752.2 934.1,744.2 935.4,737.4 936.6,732.9 937.7,731.7 938.8,731.2 939.9,734.1 941.1,739.5 942.2,745.2 943.2,751.2 944.3,756.5 945.4,760.6 946.5,763.8 947.7,765.4 949.1,765.2 950.5,764.9 952.1,762.4 953.6,758.3 954.8,754.9 956.0,751.2 957.1,747.3 958.3,744.9 959.5,744.5 960.7,744.4 961.8,744.6 963.0,744.9 964.4,742.2 965.8,739.5 967.0,739.7 968.2,740.2 969.7,745.0 971.3,752.4 972.4,757.3 973.6,761.8 974.5,765.6 975.5,767.7 976.5,767.7 977.6,767.7 979.0,765.3 980.4,761.8 981.7,759.8 983.0,758.3 984.6,757.3 986.1,756.4 988.1,754.7 990.1,751.9 991.0,749.1 992.0,745.3 992.8,741.9 993.6,738.3 994.6,733.9 995.5,730.8 996.3,729.8 997.1,729.3 998.0,731.1 998.8,734.8 999.6,740.1 1000.4,746.5 1001.1,752.3 1001.9,757.1 1002.7,760.5 1003.5,762.3 1004.2,762.8 1004.9,763.0 1006.7,759.5 1008.4,755.9 1009.5,756.5 1010.6,757.8 1012.1,762.0 1013.6,766.1 1014.6,767.2 1015.5,767.7 1016.3,765.6 1017.2,761.8 1018.3,756.1 1019.5,750.1 1020.3,745.9 1021.2,743.0 1022.1,741.7 1023.0,741.1 1024.2,741.3 1025.4,741.6 1026.6,741.2 1027.7,740.6 1028.9,740.3 1030.1,740.2 1031.3,742.2 1032.5,746.5 1033.3,751.0 1034.1,755.9 1034.8,759.7 1035.5,761.8 1036.6,761.5 1037.6,760.6 1038.6,756.9 1039.5,751.2 1040.3,746.9 1041.2,743.0 1041.9,739.9 1042.6,738.3 1043.5,740.7 1044.5,745.3 1045.6,753.0 1046.8,761.8 1047.9,770.2 1048.9,776.0 1049.5,776.8 1050.0,777.1 1050.9,776.1 1051.9,773.6 1053.1,764.8 1054.2,754.8 1055.3,749.6 1056.4,747.0 1057.9,747.1 1059.4,747.2 1061.2,745.6 1062.9,743.7 1064.5,743.4 1066.0,743.2 1067.2,743.9 1068.4,745.3 1070.4,749.3 1072.4,754.8 1074.1,760.9 1075.9,766.5 1077.1,769.3 1078.2,770.8 1079.2,769.0 1080.1,765.4 1081.3,757.0 1082.5,746.5 1083.7,736.1 1084.8,728.9 1085.7,727.2 1086.5,726.5 1087.3,728.9 1088.1,733.6 1089.2,742.2 1090.3,752.4 1091.3,763.0 1092.4,770.1 1093.5,771.8 1094.7,772.4 1095.7,768.5 1096.6,761.8 1098.0,751.7 1099.4,744.2 1100.3,742.5 1101.1,741.8 1102.0,743.5 1103.0,746.5 1104.1,751.5 1105.3,755.5 1106.4,756.6 1107.4,757.1 1108.7,754.8 1110.0,751.2 1111.2,748.5 1112.4,747.0 1113.6,747.9 1114.7,749.6 1115.9,752.0 1117.1,753.6 1118.3,753.5 1119.4,753.1 1120.9,751.1 1122.3,749.4 1123.2,750.0 1124.2,751.2 1125.7,754.2 1127.2,757.1 1128.3,758.4 1129.3,759.0 1130.3,758.4 1131.2,757.1 1133.0,750.8 1134.7,744.2 1135.9,742.2 1137.1,741.3 1138.0,742.8 1139.0,745.3 1141.0,751.6 1143.0,755.9 1143.9,756.3 1144.9,756.4 1146.3,752.7 1147.7,747.7 1148.8,745.8 1149.8,744.9 1150.8,746.2 1151.7,748.9 1152.9,753.4 1154.0,758.3 1155.0,761.7 1155.9,764.2 1156.8,765.5 1157.6,766.1 1158.5,765.7 1159.5,764.9 1161.0,760.2 1162.5,752.4 1163.6,745.7 1164.6,738.3 1165.6,731.7 1166.5,726.5 1167.7,722.8 1168.9,721.1 1169.8,722.0 1170.8,724.2 1171.5,729.1 1172.2,735.9 1172.9,741.7 1173.6,747.7 1174.5,756.9 1175.5,766.5 1176.3,775.5 1177.1,783.0 1177.8,787.4 1178.5,789.6 1179.6,789.6 1180.6,789.6 1181.5,784.8 1182.3,776.0 1183.0,767.4 1183.7,758.3 1184.5,748.6 1185.4,740.6 1186.3,734.1 1187.2,730.0 1188.1,728.4 1188.9,727.7 1189.7,728.8 1190.5,731.2 1191.5,735.5 1192.4,740.6 1193.2,744.4 1194.1,747.7 1195.0,751.1 1196.0,753.6 1196.9,754.9 1197.8,755.5 1199.2,753.7 1200.7,750.5 1202.4,745.7 1204.2,742.5 1205.1,743.0 1206.1,744.2 1207.1,748.1 1208.2,753.6 1209.1,758.0 1210.1,761.8 1211.3,765.7 1212.4,767.7 1213.4,767.6 1214.3,767.2 1215.7,764.7 1217.1,761.4 1218.3,759.9 1219.5,758.3 1220.9,755.4 1222.3,751.2 1223.1,746.9 1224.0,741.8 1224.7,737.7 1225.4,734.8 1226.6,732.7 1227.7,731.9 1228.6,733.2 1229.4,735.9 1230.3,740.8 1231.3,746.5 1232.2,751.7 1233.1,755.9 1234.0,758.6 1234.8,760.2 1235.4,760.5 1236.0,760.6 1237.1,759.5 1238.3,758.3 1239.3,758.7 1240.2,759.5 1241.9,761.9 1243.5,763.7 1244.4,762.8 1245.4,760.6 1246.2,757.0 1247.0,752.4 1247.7,749.3 1248.4,746.5 1249.3,743.2 1250.1,741.3 1251.0,742.7 1252.0,745.3 1253.4,751.5 1254.8,757.1 1255.7,759.0 1256.7,759.9 1257.5,758.6 1258.3,755.9 1259.2,752.2 1260.0,747.7 1260.7,743.8 1261.4,740.6 1262.3,738.2 1263.3,737.1 1264.3,738.9 1265.4,742.5 1266.3,746.5 1267.3,751.2 1268.1,755.7 1268.9,759.5 1270.7,764.8 1272.5,767.2 1273.6,766.5 1274.8,764.7 1275.8,760.6 1276.7,754.8 1277.5,750.0 1278.3,745.3 1279.5,738.9 1280.7,734.8 1281.6,733.9 1282.6,733.6 1283.4,735.6 1284.2,739.5 1285.2,744.4 1286.1,750.1 1286.9,755.8 1287.8,760.6 1288.9,765.0 1290.1,767.0 1291.2,766.0 1292.3,764.0 1293.5,760.8 1294.7,758.2 1296.5,757.3 1298.2,756.5 1299.4,755.1 1300.6,752.9 1302.0,748.6 1303.5,744.1 1305.0,741.0 1306.5,738.8 1307.3,738.0 1308.2,737.6 1309.1,738.1 1310.0,739.4 1310.7,741.4 1311.4,744.1"/>
<polyline fill="none" stroke="#000" stroke-width="1.25" stroke-linejoin="round" points="341.5,503.3 342.1,511.6 342.7,502.3 343.4,509.2 344.3,504.3 345.1,509.6 345.7,503.5 346.8,510.0 347.5,502.6 348.7,512.1 349.5,499.4 350.0,514.5 350.8,504.8 351.4,510.6 352.5,504.6 353.4,512.2 354.2,502.9 354.7,509.8 355.4,502.0 356.2,510.5 357.1,503.8 357.9,514.0 358.9,505.0 359.8,512.3 361.0,502.6 361.7,516.6 362.3,504.8 363.3,510.9 364.2,505.6 365.2,513.8 366.1,500.4 366.9,512.7 367.8,502.4 368.7,513.4 369.9,502.6 370.9,509.0 371.9,501.3 373.1,513.1 373.9,503.1 374.9,509.3 375.7,504.0 376.3,509.3 377.4,504.1 378.1,510.2 379.2,504.0 380.0,510.8 381.2,499.8 382.4,509.2 383.2,502.8 384.3,514.2 384.9,503.5 385.6,509.3 386.5,502.0 387.2,509.3 388.0,503.7 388.9,515.2 389.9,503.4 390.9,512.9 391.4,500.3 392.5,514.7 393.6,504.0 394.4,509.9 395.4,504.4 396.0,509.6 396.6,503.4 397.1,509.1 397.7,503.8 398.5,508.8 399.7,501.4 400.3,509.1 401.0,502.9 401.6,513.1 402.9,502.5 403.7,509.0 404.3,503.2 405.0,513.1 405.6,504.0 406.8,510.6 407.4,502.0 408.0,510.5 409.2,499.1 410.2,508.8 411.0,503.0 412.1,510.0 413.2,502.6 413.8,512.3 415.1,499.3 416.2,513.0 417.2,504.0 418.1,510.5 418.6,504.8 419.3,510.5 420.4,499.7 421.2,515.5 422.4,499.7 423.2,510.5 423.9,504.7 424.5,512.3 425.7,500.5 426.6,512.2 427.7,504.4 428.7,514.5 429.8,501.2 430.6,509.9 431.7,504.1 432.8,515.6 433.6,504.0 434.8,513.1 435.4,504.7 436.1,514.7 437.2,504.4 438.3,515.1 439.3,503.3 440.2,509.1 440.7,498.2 441.7,510.5 442.9,502.7 444.0,513.2 444.7,503.9 445.4,509.9 446.4,504.4 447.2,510.2 448.3,504.6 449.2,512.6 450.4,504.5 451.6,512.1 452.5,503.8 453.0,511.6 453.6,505.3 454.7,510.4 455.6,502.0 456.5,510.8 457.4,503.2 458.5,510.3 459.4,504.9 460.1,514.0 461.0,503.6 462.0,515.6 462.9,503.3 463.7,512.1 464.8,504.1 465.7,511.5 466.9,501.8 468.0,514.7 468.7,502.2 469.9,513.1 470.5,503.6 471.4,508.8 472.0,503.6 473.1,512.5 474.2,503.8 475.3,511.9 475.9,499.7 477.1,510.0 478.3,503.8 479.2,515.7 480.3,504.6 481.1,511.3 481.9,504.3 482.6,512.6 483.1,502.6 484.0,509.4 484.7,502.0 485.6,509.4 486.8,500.7 488.1,509.8 488.8,504.8 489.8,510.5 490.4,504.0 491.6,514.2 492.3,504.9 493.5,512.0 494.5,504.6 495.1,512.4 495.9,504.2 497.1,511.3 498.2,503.4 499.3,508.3 500.5,501.9 501.2,510.0 502.4,502.8 503.0,510.1 503.7,503.3 504.3,508.7 505.0,503.1 505.7,512.3 506.4,502.4 507.1,509.7 507.6,503.6 508.1,512.2 509.0,503.7 509.9,514.1 510.4,499.8 511.3,510.2 512.4,502.7 513.3,511.5 514.5,503.0 515.6,512.0 516.6,503.2 517.4,509.5 518.0,504.5 519.0,510.3 519.6,504.9 520.8,514.8 521.8,504.7 522.5,510.8 523.3,504.9 524.1,510.4 525.4,498.9 526.3,509.7 527.5,503.4 528.3,509.0 529.0,502.4 529.9,509.1 530.8,503.8 531.5,509.0 532.3,504.0 532.8,509.7 533.5,502.1 534.4,512.8 535.4,501.3 536.5,510.4 537.3,498.6 537.9,512.5 538.9,504.2 540.0,513.9 541.0,500.8 542.1,509.2 543.0,502.5 544.1,513.1 545.2,502.5 546.4,512.7 547.4,504.9 547.9,510.6 548.7,505.6 549.8,512.8 550.8,503.6 551.8,512.1 552.3,501.3 553.2,506.1 554.7,507.1 555.9,496.3 556.9,525.2 558.1,504.1 559.1,511.0 560.1,498.7 561.1,506.1 562.1,516.4 562.8,502.2 563.7,484.5 565.0,535.5 565.8,506.1 566.5,496.3 567.5,511.0 568.3,511.4 568.4,498.7 569.3,503.3 569.4,513.4 569.9,510.3 570.9,505.2 571.9,512.1 572.4,505.7 573.4,514.4 574.4,504.0 575.3,511.1 576.2,503.4 577.3,509.4 578.6,497.5 579.1,510.4 580.2,497.0 581.0,509.4 581.7,497.5 582.3,511.7 583.0,502.3 584.2,511.0 585.3,504.1 586.4,514.9 587.1,500.2 588.0,510.5 588.5,502.6 589.3,509.9 589.9,502.5 590.7,513.8 591.2,499.8 592.3,509.7 593.5,501.0 594.7,510.9 595.5,503.6 596.7,512.4 597.5,503.0 598.2,509.7 598.8,499.2 599.5,515.3 601.9,513.0 603.0,514.0 604.1,501.4 605.2,513.5 606.3,499.2 607.4,501.6 609.3,511.2 610.6,512.7 611.8,502.1 613.1,515.6 614.3,503.5 615.6,513.8 616.8,502.3 618.1,501.6 619.6,512.1 620.7,514.3 621.9,504.1 623.0,515.9 624.2,519.6 626.1,473.6 627.7,573.6 628.9,447.0 630.2,534.5 631.3,486.7 632.6,529.8 633.9,491.3 635.1,511.5 636.3,517.7 638.0,491.3 640.0,516.8 641.0,502.5 642.2,509.4 643.5,503.1 644.7,499.7 644.7,514.9 646.1,511.8 647.5,498.8 648.8,514.0 650.3,498.4 652.1,498.8 653.3,509.1 654.4,502.1 655.5,532.0 656.6,511.9 657.7,500.1 658.8,511.5 660.0,503.1 661.1,476.4 662.2,510.6 663.3,499.8 664.4,515.6 665.5,538.2 666.8,512.7 668.0,503.5 669.3,489.5 670.8,493.2 671.9,514.6 673.0,523.3 674.5,498.8 675.9,511.7 677.3,496.0 679.1,521.4 680.4,510.5 681.6,504.1 682.9,518.6 684.5,514.4 686.0,480.5 687.5,483.9 689.6,565.2 690.7,514.7 691.8,435.5 693.4,513.4 695.0,571.3 696.2,512.3 697.4,454.5 698.8,512.9 700.1,503.4 701.5,529.8 703.0,478.7 704.4,515.7 705.8,558.1 707.1,471.2 708.2,511.5 709.3,474.6 711.2,608.4 712.8,400.1 714.5,577.8 716.4,457.8 717.6,513.5 718.8,623.8 720.7,323.4 722.0,686.2 723.8,369.3 725.1,643.4 727.0,378.7 728.3,621.0 729.2,403.8 731.3,601.9 732.6,444.4 734.5,461.5 735.9,589.0 737.4,434.0 738.5,514.7 739.7,561.5 741.0,472.3 742.5,535.4 744.5,470.8 746.1,514.7 747.7,541.9 749.0,434.0 750.4,512.3 751.8,576.0 753.3,403.2 754.9,606.5 756.4,429.9 758.3,555.3 759.5,511.1 760.7,455.6 762.0,540.6 763.4,512.8 764.8,493.2 766.0,509.9 767.2,495.0 768.5,529.8 770.0,483.9 771.3,529.4 773.0,464.3 774.1,546.9 775.2,514.8 776.4,484.2 778.4,541.9 779.9,439.7 781.6,580.4 783.1,443.3 784.7,541.9 785.7,490.4 787.1,511.5 788.5,513.0 789.9,496.0 791.8,514.9 793.5,479.0 794.6,479.2 796.0,532.0 796.5,531.3 797.8,491.3 799.6,477.4 799.6,518.6 800.5,475.0 802.2,532.0 805.0,476.0 806.0,531.0 807.9,495.3 809.3,531.7 810.8,497.4 812.1,524.1 813.6,471.7 815.9,540.2 817.4,498.0 818.7,523.7 820.8,489.2 822.3,521.7 824.2,484.4 826.3,534.3 828.3,496.0 830.5,516.5 832.4,494.7 834.5,514.1 836.0,500.3 837.4,526.9 839.3,500.4 840.9,529.7 842.7,500.9 844.9,519.3 847.3,500.0 849.1,524.5 851.3,490.8 852.5,516.0 853.9,499.2 856.2,515.8 858.6,498.4 860.8,519.4 862.3,494.7 864.6,515.2 866.6,495.0 868.0,515.4 869.4,500.1 870.9,518.7 872.9,500.2 874.1,514.8 876.1,500.4 877.7,513.3 879.8,492.7 881.1,513.0 882.8,491.6 884.2,476.7 886.2,544.7 887.8,519.0 889.4,484.2 891.0,517.3 892.6,497.0 894.8,526.3 896.5,501.8 898.6,513.1 899.8,490.5 901.5,520.6 903.2,490.9 904.9,512.8 906.1,497.3 908.1,523.4 909.4,496.1 911.1,515.7 912.4,499.0 914.3,521.3 915.6,496.9 917.7,524.5 919.2,502.9 921.5,523.4 923.3,499.9 925.6,511.4 927.9,493.2 930.1,509.9 932.2,500.7 933.9,523.4 936.1,505.0 937.6,516.9 939.4,499.0 940.7,510.3 942.8,487.5 944.1,512.4 946.2,500.1 948.4,513.0 950.3,500.1 952.2,515.0 953.9,495.1 955.7,511.9 957.4,492.8 958.6,512.8 960.4,502.4 962.5,526.8 964.3,507.9 966.0,510.8 967.4,492.7 968.7,504.2 970.5,497.1 972.5,516.6 974.6,506.6 976.4,515.0 978.2,490.6 980.5,496.3 982.8,496.3 984.8,537.4 986.0,540.0 988.1,517.7 990.6,472.0 992.5,513.8 993.8,509.7 996.2,544.0 998.2,496.6 1000.3,495.7 1002.1,491.7 1003.6,522.3 1005.4,517.6 1006.6,517.5 1008.0,481.3 1010.1,500.4 1011.5,492.2 1012.8,527.7 1014.8,517.1 1017.0,506.3 1018.9,473.3 1020.2,512.3 1022.2,518.1 1024.3,519.9 1026.7,474.5 1028.4,508.2 1030.1,518.7 1031.7,540.7 1034.0,460.0 1036.3,507.4 1038.2,517.7 1039.8,530.2 1041.1,499.2 1043.0,485.7 1044.8,489.2 1046.2,531.6 1048.1,516.7 1049.4,502.9 1050.7,472.9 1052.1,519.0 1054.1,519.6 1056.0,521.6 1057.0,477.0 1058.9,500.5 1060.5,531.0 1062.4,530.9 1064.1,491.7 1065.3,512.5 1067.2,499.1 1069.2,522.3 1071.5,482.9 1073.0,517.2 1074.2,494.6 1075.9,524.6 1077.2,492.9 1078.4,511.4 1080.7,491.7 1082.2,530.4 1084.0,501.0 1085.8,472.0 1087.7,495.0 1089.0,537.7 1091.1,490.4 1092.3,512.6 1095.0,534.0 1096.5,529.6 1098.0,504.0 1099.5,503.1 1101.1,485.9 1103.1,535.0 1105.6,473.0 1107.0,512.0 1109.2,499.4 1110.7,519.0 1113.1,497.5 1115.3,518.9 1116.8,501.8 1118.9,517.1 1121.0,496.6 1123.3,520.1 1124.8,490.8 1126.7,512.7 1128.7,489.3 1130.5,523.0 1132.5,492.2 1134.2,519.5 1136.1,499.9 1137.6,517.6 1138.9,491.0 1140.2,511.4 1141.6,491.0 1143.2,512.4 1144.4,502.5 1146.4,518.1 1148.5,494.9 1149.8,516.5 1151.4,492.7 1153.6,519.8 1154.9,491.8 1157.2,521.2 1158.5,501.3 1159.8,511.7 1162.0,494.9 1164.0,519.9 1166.0,501.1 1167.3,511.8 1169.4,502.4 1171.0,515.2 1172.2,502.6 1173.7,518.7 1175.4,501.5 1177.7,514.5 1180.0,497.0 1181.2,513.0 1182.9,495.5 1184.5,517.1 1186.4,502.5 1188.6,511.9 1190.8,502.8 1192.0,512.1 1194.1,493.9 1195.3,514.9 1197.1,497.3 1198.5,515.4 1200.1,497.0 1201.7,520.3 1203.2,502.3 1205.2,513.2 1206.6,497.4 1207.9,516.1 1209.9,496.1 1211.9,512.4 1213.5,501.2 1215.8,510.7 1218.1,503.0 1219.5,511.3 1221.8,500.2 1223.5,518.1 1224.9,501.2 1226.8,516.4 1228.9,498.5 1230.5,510.6 1231.9,495.2 1233.9,513.6 1235.3,499.3 1237.4,512.5 1238.8,499.9 1241.0,510.0 1242.5,501.1 1244.5,514.9 1246.5,491.0 1249.2,502.5 1250.8,510.1 1253.2,498.5 1254.5,516.1 1255.8,500.6 1258.2,512.5 1260.3,499.2 1261.7,510.1 1263.0,501.3 1264.7,507.9 1266.4,498.1 1268.4,509.5 1270.4,500.7 1271.7,509.9 1273.4,498.9 1275.7,509.6 1277.6,500.3 1279.3,509.1 1281.4,498.7 1283.5,510.1 1285.7,499.3 1287.7,507.8 1289.3,500.4 1290.6,508.2 1292.7,500.7 1294.7,507.7 1296.4,502.2 1298.3,507.9 1300.4,499.9 1301.8,509.9 1303.9,504.4 1305.7,512.5 1306.9,503.9 1308.3,510.2 1310.7,502.8 1312.0,507.8"/>
<polyline fill="none" stroke="#cdcd00" stroke-width="2.7" stroke-linejoin="round" points="341.5,506.5 342.2,506.5 342.8,506.6 343.5,506.7 344.2,506.8 344.8,507.0 345.5,507.1 346.2,507.3 346.8,507.4 347.5,507.5 348.2,507.5 348.8,507.6 349.5,507.6 350.2,507.6 350.8,507.5 351.5,507.4 352.2,507.4 352.8,507.3 353.5,507.2 354.2,507.2 354.8,507.3 355.5,507.3 356.2,507.3 356.8,507.5 357.5,507.6 358.2,507.8 358.8,507.9 359.5,508.1 360.2,508.2 360.8,508.3 361.5,508.4 362.2,508.3 362.8,508.3 363.5,508.2 364.2,508.1 364.8,507.9 365.5,507.7 366.2,507.5 366.8,507.3 367.5,507.0 368.2,506.8 368.8,506.6 369.5,506.5 370.2,506.4 370.8,506.4 371.5,506.4 372.2,506.4 372.8,506.5 373.5,506.5 374.2,506.6 374.8,506.7 375.5,506.8 376.2,506.8 376.8,506.8 377.5,506.8 378.2,506.8 378.8,506.7 379.5,506.6 380.2,506.5 380.8,506.4 381.5,506.3 382.2,506.2 382.8,506.2 383.5,506.1 384.2,506.2 384.8,506.3 385.5,506.4 386.2,506.5 386.8,506.7 387.5,506.9 388.2,507.1 388.8,507.3 389.5,507.4 390.2,507.5 390.8,507.6 391.5,507.7 392.2,507.6 392.8,507.5 393.5,507.5 394.2,507.3 394.8,507.1 395.5,506.9 396.2,506.8 396.8,506.6 397.5,506.4 398.2,506.3 398.8,506.2 399.5,506.2 400.2,506.2 400.8,506.2 401.5,506.2 402.2,506.3 402.8,506.4 403.5,506.4 404.2,506.5 404.8,506.5 405.5,506.5 406.2,506.5 406.8,506.4 407.5,506.3 408.2,506.2 408.8,506.1 409.5,506.0 410.2,505.9 410.8,505.8 411.5,505.7 412.2,505.7 412.8,505.8 413.5,505.8 414.2,505.9 414.8,506.1 415.5,506.3 416.2,506.5 416.8,506.8 417.5,507.0 418.2,507.2 418.8,507.4 419.5,507.6 420.2,507.7 420.8,507.7 421.5,507.8 422.2,507.7 422.8,507.7 423.5,507.6 424.2,507.5 424.8,507.4 425.5,507.2 426.2,507.1 426.8,507.1 427.5,507.0 428.2,507.0 428.8,507.0 429.5,507.1 430.2,507.1 430.8,507.2 431.5,507.3 432.2,507.4 432.8,507.5 433.5,507.5 434.2,507.5 434.8,507.4 435.5,507.4 436.2,507.3 436.8,507.1 437.5,507.0 438.2,506.8 438.8,506.7 439.5,506.5 440.2,506.4 440.8,506.3 441.5,506.3 442.2,506.3 442.8,506.4 443.5,506.5 444.2,506.6 444.8,506.8 445.5,507.1 446.2,507.3 446.8,507.5 447.5,507.7 448.2,507.9 448.8,508.0 449.5,508.1 450.2,508.1 450.8,508.1 451.5,508.1 452.2,508.1 452.8,508.0 453.5,507.9 454.2,507.8 454.8,507.7 455.5,507.6 456.2,507.6 456.8,507.6 457.5,507.6 458.2,507.7 458.8,507.8 459.5,507.8 460.2,507.9 460.8,508.0 461.5,508.1 462.2,508.1 462.8,508.1 463.5,508.1 464.2,508.0 464.8,507.8 465.5,507.7 466.2,507.5 466.8,507.2 467.5,507.0 468.2,506.8 468.8,506.6 469.5,506.4 470.2,506.3 470.8,506.2 471.5,506.2 472.2,506.2 472.8,506.3 473.5,506.4 474.2,506.5 474.8,506.7 475.5,506.8 476.2,507.0 476.8,507.1 477.5,507.2 478.2,507.3 478.8,507.3 479.5,507.3 480.2,507.3 480.8,507.2 481.5,507.1 482.2,507.1 482.8,507.0 483.5,506.9 484.2,506.9 484.8,506.9 485.5,506.8 486.2,506.9 486.8,507.0 487.5,507.1 488.2,507.2 488.8,507.3 489.5,507.4 490.2,507.5 490.8,507.6 491.5,507.7 492.2,507.6 492.8,507.6 493.5,507.5 494.2,507.3 494.8,507.1 495.5,506.9 496.2,506.7 496.8,506.4 497.5,506.2 498.2,506.0 498.8,505.8 499.5,505.7 500.2,505.7 500.8,505.7 501.5,505.7 502.2,505.7 502.8,505.8 503.5,505.9 504.2,506.1 504.8,506.2 505.5,506.3 506.2,506.4 506.8,506.5 507.5,506.5 508.2,506.5 508.8,506.4 509.5,506.4 510.2,506.3 510.8,506.3 511.5,506.2 512.2,506.2 512.8,506.2 513.5,506.2 514.2,506.2 514.8,506.3 515.5,506.4 516.2,506.6 516.8,506.8 517.5,507.0 518.2,507.2 518.8,507.4 519.5,507.5 520.2,507.6 520.8,507.7 521.5,507.8 522.2,507.7 522.8,507.6 523.5,507.6 524.2,507.4 524.8,507.2 525.5,507.0 526.2,506.9 526.8,506.7 527.5,506.5 528.2,506.4 528.8,506.3 529.5,506.3 530.2,506.3 530.8,506.4 531.5,506.4 532.2,506.5 532.8,506.6 533.5,506.7 534.2,506.8 534.8,506.9 535.5,506.9 536.2,506.9 536.8,506.9 537.5,506.9 538.2,506.8 538.8,506.8 539.5,506.7 540.2,506.6 540.8,506.5 541.5,506.5 542.2,506.5 542.8,506.6 543.5,506.6 544.2,506.7 544.8,506.9 545.5,507.1 546.2,507.3 546.8,507.6 547.5,507.8 548.2,508.0 548.8,508.2 549.5,508.3 550.2,508.4 550.8,508.4 551.5,508.5 552.2,507.7 553.0,506.4 553.7,505.6 555.2,506.4 556.7,507.8 558.2,508.6 559.5,507.8 560.7,506.4 562.0,505.6 562.9,507.0 563.9,509.5 564.9,510.9 566.2,509.5 567.4,507.0 568.7,505.6 569.7,506.6 570.7,508.4 571.6,509.4 573.1,508.6 574.6,507.2 576.1,506.4 577.8,506.2 579.5,506.1 581.2,506.1 582.8,506.8 584.4,508.3 586.1,509.0 587.4,508.3 588.7,506.8 590.0,506.1 591.6,506.5 593.3,507.2 594.9,507.5 596.5,507.3 598.2,506.8 599.8,506.6 601.4,506.9 603.1,507.7 604.7,508.0 606.0,507.8 607.3,507.4 608.6,507.1 609.9,507.0 611.2,506.9 612.5,506.9 613.9,507.2 615.2,507.7 616.5,508.0 617.5,507.6 618.4,506.7 619.4,506.1 620.7,505.9 622.0,505.8 623.3,505.6 624.0,505.0 624.6,504.1 625.3,503.6 625.9,504.8 626.6,506.9 627.3,508.0 628.2,507.5 629.2,506.6 630.2,506.1 631.2,506.7 632.2,507.9 633.1,508.5 633.8,508.5 634.4,508.5 635.1,508.5 635.7,508.1 636.4,507.4 637.1,507.1 637.6,507.1 638.1,507.1 638.6,507.2 639.6,507.6 640.7,508.2 641.7,508.5 642.7,507.7 643.7,506.1 644.7,505.1 645.7,505.0 646.7,504.9 647.8,504.8 648.8,504.9 649.8,505.0 650.8,505.1 651.5,505.7 652.1,507.0 652.8,508.7 653.5,512.2 654.2,517.0 654.9,519.3 655.9,516.6 656.9,510.6 657.9,504.6 658.9,498.6 659.9,492.6 660.9,489.9 661.7,492.8 662.5,499.2 663.3,505.6 664.0,511.8 664.8,518.0 665.5,520.9 666.2,518.8 667.0,514.2 667.7,509.7 668.5,505.3 669.3,501.0 670.1,499.1 670.6,500.3 671.2,502.9 671.8,505.6 672.4,508.5 673.0,511.4 673.6,512.7 674.2,511.8 674.8,509.8 675.4,507.7 676.0,505.6 676.6,503.6 677.2,502.6 677.7,503.4 678.2,505.0 678.7,506.7 679.2,508.3 679.7,510.0 680.2,510.7 681.1,510.7 681.9,510.5 682.7,510.2 683.3,508.7 683.8,505.7 684.3,502.6 684.8,499.3 685.3,496.0 685.8,494.5 686.3,497.5 686.9,504.0 687.4,510.7 688.0,517.7 688.5,524.7 689.0,528.0 689.6,523.6 690.1,514.0 690.7,504.6 691.2,495.2 691.8,486.0 692.4,481.8 692.9,486.3 693.5,496.1 694.0,505.6 694.6,515.3 695.2,524.7 695.7,529.0 696.2,525.6 696.7,518.1 697.2,510.7 697.8,503.6 698.3,496.6 698.8,493.5 699.2,495.4 699.7,499.5 700.2,503.6 700.6,507.4 701.1,511.1 701.5,512.7 702.0,511.2 702.5,508.2 703.0,506.7 703.7,508.8 704.4,512.7 705.1,514.8 705.5,513.1 706.0,509.4 706.5,505.6 707.0,501.9 707.4,498.2 707.9,496.5 708.4,498.5 708.9,502.8 709.4,507.2 709.9,511.5 710.4,515.8 710.9,517.8 711.4,516.0 712.0,512.1 712.5,508.2 713.0,504.4 713.5,500.7 714.0,499.1 714.6,500.6 715.2,504.2 715.8,507.7 716.5,511.4 717.1,515.1 717.7,516.8 718.3,515.0 718.9,511.0 719.5,507.2 720.1,503.4 720.7,499.7 721.3,498.0 721.7,499.4 722.1,502.3 722.5,505.1 722.9,508.1 723.4,510.9 723.8,512.2 724.5,511.3 725.2,509.4 725.9,507.7 726.5,506.2 727.2,504.7 727.9,504.1 728.7,505.8 729.6,509.0 730.4,510.7 731.4,509.3 732.4,506.6 733.5,505.1 734.1,506.6 734.8,509.3 735.5,510.7 736.3,508.1 737.2,503.2 738.0,500.6 738.5,501.6 738.9,503.8 739.3,506.2 739.7,508.4 740.2,510.7 740.6,511.7 741.1,510.6 741.6,508.1 742.1,505.6 742.6,503.3 743.1,501.1 743.6,500.1 744.1,501.2 744.6,503.7 745.1,506.2 745.6,508.5 746.1,510.7 746.6,511.7 747.1,510.7 747.5,508.5 748.0,506.2 748.4,503.9 748.8,501.6 749.2,500.6 749.6,501.5 750.1,503.5 750.5,505.6 750.9,507.7 751.3,509.8 751.7,510.7 752.9,509.0 754.1,505.8 755.3,504.1 756.3,505.0 757.3,506.8 758.3,507.7 759.2,506.6 760.0,504.7 760.8,503.6 761.9,505.1 762.9,507.7 763.9,509.2 764.7,508.1 765.6,506.2 766.4,505.1 767.3,506.2 768.1,508.1 769.0,509.2 770.0,507.9 771.0,505.4 772.0,504.1 773.0,505.6 774.0,508.3 775.0,509.7 776.2,508.8 777.4,507.1 778.6,506.2 779.8,506.3 781.0,506.5 782.1,506.7 783.2,506.3 784.2,505.5 785.2,505.1 786.2,505.5 787.2,506.3 788.2,506.7 789.6,506.5 790.9,506.1 792.3,505.6 793.1,505.0 794.0,504.1 794.8,503.6 795.7,505.2 796.5,508.1 797.4,509.7 798.2,507.9 799.1,504.4 800.0,502.6 800.4,503.9 800.9,506.4 801.3,507.7 802.6,506.2 804.0,503.5 805.3,502.0 806.9,503.5 808.5,506.2 810.1,507.7 811.2,506.6 812.3,504.7 813.4,503.6 814.4,504.9 815.5,507.2 816.6,508.5 817.7,507.6 818.7,506.1 819.8,505.2 821.4,505.7 823.0,506.4 824.6,506.9 827.1,506.4 829.5,505.7 831.9,505.2 833.5,506.0 835.1,507.4 836.7,508.5 838.3,508.9 839.9,509.2 841.6,509.3 842.9,508.2 844.2,506.3 845.6,505.2 847.5,506.3 849.3,508.2 851.2,509.3 852.8,507.8 854.4,505.1 856.1,503.6 857.4,505.0 858.7,507.6 860.1,509.3 861.2,509.7 862.2,510.0 863.3,510.1 864.6,509.2 866.0,507.7 867.3,506.9 870.6,506.9 873.8,506.9 877.0,506.9 879.1,506.4 881.3,505.7 883.4,505.2 884.5,506.7 885.6,509.4 886.7,510.9 888.3,509.2 889.9,506.1 891.5,504.4 892.6,505.5 893.6,507.4 894.7,508.5 896.9,507.8 899.0,506.7 901.2,506.1 903.3,506.5 905.5,507.2 907.6,507.7 909.8,507.0 911.9,505.9 914.1,505.2 915.7,506.1 917.3,507.6 918.9,508.5 921.0,507.2 923.2,504.9 925.3,503.6 926.9,503.7 928.6,504.0 930.2,504.4 932.0,506.4 933.9,509.3 935.8,510.9 938.2,508.6 940.6,504.3 943.1,502.0 945.7,504.1 948.4,508.0 951.1,510.1 953.0,507.4 954.9,502.3 956.7,499.6 958.9,503.2 961.0,509.8 963.2,513.3 965.1,509.8 967.0,503.2 968.8,499.6 970.7,503.6 972.6,510.9 974.5,514.9 976.3,509.7 978.2,500.0 980.1,494.8 981.7,501.5 983.3,513.9 984.9,520.6 986.8,513.7 988.7,500.9 990.6,494.0 992.2,500.7 993.8,513.1 995.4,519.7 996.9,513.3 998.4,501.3 999.9,494.8 1001.6,501.3 1003.4,513.3 1005.1,519.7 1006.5,512.2 1008.0,498.3 1009.4,490.7 1010.9,498.9 1012.4,514.0 1013.9,522.2 1015.6,514.2 1017.2,499.5 1018.8,491.6 1020.1,499.7 1021.5,514.8 1022.8,523.0 1024.1,514.4 1025.5,498.5 1026.8,489.9 1028.3,499.1 1029.7,516.2 1031.2,525.4 1032.4,514.7 1033.6,495.0 1034.9,484.3 1036.2,495.4 1037.6,515.9 1038.9,527.0 1040.3,516.6 1041.6,497.2 1042.9,486.7 1044.3,497.0 1045.6,516.0 1047.0,526.2 1048.2,516.4 1049.4,498.1 1050.7,488.3 1051.5,496.7 1052.4,512.2 1053.2,520.6 1053.8,520.3 1054.4,519.8 1055.0,518.9 1055.9,511.2 1056.8,498.3 1057.7,491.6 1057.9,491.8 1058.1,492.4 1058.2,493.2 1059.3,500.8 1060.3,510.8 1061.3,515.7 1062.5,511.5 1063.6,503.8 1064.8,499.6 1066.1,502.7 1067.3,508.6 1068.5,511.7 1069.9,508.4 1071.2,502.1 1072.6,498.8 1073.6,502.8 1074.7,510.1 1075.8,514.1 1077.1,509.5 1078.5,501.0 1079.8,496.4 1080.9,502.0 1082.0,512.5 1083.0,518.1 1084.1,512.1 1085.2,500.8 1086.2,494.8 1087.3,500.6 1088.4,511.5 1089.5,517.3 1090.5,511.9 1091.6,501.8 1092.7,496.4 1094.0,501.4 1095.4,510.7 1096.7,515.7 1097.8,511.1 1098.9,502.6 1099.9,498.0 1100.9,502.4 1101.9,510.5 1102.8,514.9 1103.8,510.3 1104.7,501.8 1105.6,497.2 1106.7,500.7 1107.7,507.3 1108.8,510.9 1109.9,508.8 1111.0,504.9 1112.0,502.8 1113.1,505.1 1114.2,509.4 1115.2,511.7 1116.6,509.0 1117.9,503.9 1119.3,501.2 1120.6,503.7 1122.0,508.4 1123.3,510.9 1124.4,508.6 1125.5,504.3 1126.5,502.0 1127.6,503.7 1128.7,506.8 1129.7,508.5 1131.1,508.0 1132.4,507.2 1133.8,506.8 1134.4,506.8 1135.1,506.9 1135.8,506.9 1136.4,506.9 1137.1,506.8 1137.8,506.7 1138.4,506.6 1139.1,506.5 1139.8,506.5 1140.4,506.5 1141.1,506.6 1141.8,506.7 1142.4,506.8 1143.1,507.0 1143.8,507.1 1144.4,507.3 1145.1,507.4 1145.8,507.4 1146.4,507.4 1147.1,507.3 1147.8,507.2 1148.4,507.1 1149.1,506.8 1149.8,506.6 1150.4,506.3 1151.1,506.0 1151.8,505.8 1152.4,505.7 1153.1,505.5 1153.8,505.5 1154.4,505.5 1155.1,505.7 1155.8,505.8 1156.4,506.0 1157.1,506.3 1157.8,506.5 1158.4,506.8 1159.1,507.0 1159.8,507.2 1160.4,507.3 1161.1,507.4 1161.8,507.4 1162.4,507.4 1163.1,507.3 1163.8,507.3 1164.4,507.2 1165.1,507.1 1165.8,507.1 1166.4,507.1 1167.1,507.2 1167.8,507.3 1168.4,507.4 1169.1,507.6 1169.8,507.7 1170.4,507.9 1171.1,508.0 1171.8,508.1 1172.4,508.1 1173.1,508.1 1173.8,508.1 1174.4,507.9 1175.1,507.7 1175.8,507.4 1176.4,507.2 1177.1,506.9 1177.8,506.6 1178.4,506.4 1179.1,506.2 1179.8,506.1 1180.4,506.1 1181.1,506.2 1181.8,506.2 1182.4,506.4 1183.1,506.6 1183.8,506.8 1184.4,507.0 1185.1,507.3 1185.8,507.4 1186.4,507.6 1187.1,507.6 1187.8,507.7 1188.4,507.7 1189.1,507.6 1189.8,507.5 1190.4,507.4 1191.1,507.3 1191.8,507.3 1192.4,507.3 1193.1,507.3 1193.8,507.4 1194.4,507.5 1195.1,507.6 1195.8,507.8 1196.4,507.9 1197.1,508.1 1197.8,508.2 1198.4,508.2 1199.1,508.2 1199.8,508.2 1200.4,508.1 1201.1,507.9 1201.8,507.6 1202.4,507.3 1203.1,507.0 1203.8,506.7 1204.4,506.4 1205.1,506.1 1205.8,506.0 1206.4,505.9 1207.1,505.9 1207.8,505.9 1208.4,505.9 1209.1,506.1 1209.8,506.3 1210.4,506.5 1211.1,506.7 1211.8,506.8 1212.4,506.9 1213.1,507.0 1213.8,507.1 1214.4,507.0 1215.1,507.0 1215.8,506.9 1216.4,506.8 1217.1,506.7 1217.8,506.6 1218.4,506.6 1219.1,506.5 1219.8,506.5 1220.4,506.6 1221.1,506.7 1221.8,506.9 1222.4,507.0 1223.1,507.2 1223.8,507.3 1224.4,507.4 1225.1,507.4 1225.8,507.4 1226.4,507.3 1227.1,507.1 1227.8,506.9 1228.4,506.7 1229.1,506.3 1229.8,506.0 1230.4,505.7 1231.1,505.4 1231.8,505.2 1232.4,505.0 1233.1,504.9 1233.8,504.8 1234.4,504.9 1235.1,505.0 1235.8,505.1 1236.4,505.3 1237.1,505.4 1237.8,505.6 1238.4,505.7 1239.1,505.8 1239.8,505.9 1240.4,505.9 1241.1,505.8 1241.8,505.7 1242.4,505.7 1243.1,505.5 1243.8,505.4 1244.4,505.4 1245.1,505.4 1245.8,505.4 1246.4,505.4 1247.1,505.6 1247.8,505.7 1248.4,505.9 1249.1,506.1 1249.8,506.2 1250.4,506.4 1251.1,506.5 1251.8,506.5 1252.4,506.5 1253.1,506.3 1253.8,506.2 1254.4,506.0 1255.1,505.7 1255.8,505.4 1256.4,505.1 1257.1,504.7 1257.8,504.5 1258.4,504.3 1259.1,504.2 1259.8,504.1 1260.4,504.1 1261.1,504.2 1261.8,504.3 1262.4,504.4 1263.1,504.6 1263.8,504.8 1264.4,504.9 1265.1,505.1 1265.8,505.1 1266.4,505.1 1267.1,505.1 1267.8,505.1 1268.4,505.1 1269.1,505.0 1269.8,504.9 1270.4,504.9 1271.1,504.8 1271.8,504.8 1272.4,504.9 1273.1,505.0 1273.8,505.2 1274.4,505.4 1275.1,505.6 1275.8,505.8 1276.4,506.0 1277.1,506.2 1277.8,506.3 1278.4,506.3 1279.1,506.3 1279.8,506.2 1280.4,506.1 1281.1,505.8 1281.8,505.6 1282.4,505.3 1283.1,505.0 1283.8,504.8 1284.4,504.5 1285.1,504.4 1285.8,504.3 1286.4,504.3 1287.1,504.3 1287.8,504.4 1288.4,504.5 1289.1,504.7 1289.8,504.9 1290.4,505.1 1291.1,505.2 1291.8,505.3 1292.4,505.4 1293.1,505.4 1293.8,505.4 1294.4,505.4 1295.1,505.3 1295.8,505.2 1296.4,505.2 1297.1,505.2 1297.8,505.2 1298.4,505.2 1299.1,505.3 1299.8,505.5 1300.4,505.7 1301.1,505.9 1301.8,506.2 1302.4,506.4 1303.1,506.7 1303.8,506.8 1304.4,506.9 1305.1,506.9 1305.8,506.9 1306.4,506.9 1307.1,506.7 1307.8,506.4 1308.4,506.2 1309.1,505.9 1309.8,505.6 1310.4,505.4 1311.1,505.2 1311.8,505.1 1312.1,505.1 1312.5,505.2 1312.8,505.3"/>
<g stroke="#bebebe" stroke-width="2.3" fill="none"><path d="M227.5 480.6V532.6M220.6 480.6H234.6M220.6 532.6H234.6"/></g>
<circle cx="227.5" cy="506.7" r="4.1" fill="#000"/>
<text transform="translate(260.3,605) rotate(-90)" font-size="24.2">Typical noise level</text>
<g stroke="#000" fill="none" stroke-width="2.6" stroke-linecap="square"><path d="M179.4 110.6V902.7H1475.2"/><path d="M179.4 110.6H1475.2"/></g>
<g stroke="#000" fill="none" stroke-width="2.3" stroke-linecap="square"><path d="M1475.2 110.6V902.7"/></g>
<path stroke="#000" fill="none" stroke-width="1.1" d="M179.4 902.7v12M179.4 110.6v-11.5M341.4 902.7v12M341.4 110.6v-11.5M503.4 902.7v12M503.4 110.6v-11.5M665.3 902.7v12M665.3 110.6v-11.5M827.3 902.7v12M827.3 110.6v-11.5M989.3 902.7v12M989.3 110.6v-11.5M1151.2 902.7v12M1151.2 110.6v-11.5M1313.2 902.7v12M1313.2 110.6v-11.5M1475.2 902.7v12M1475.2 110.6v-11.5M179.4 902.7h-12M179.4 770.7h-12M179.4 638.7h-12M179.4 506.6h-12M179.4 374.6h-12M179.4 242.6h-12M179.4 110.6h-12M1475.2 110.6h11.5M1475.2 176.6h11.5M1475.2 242.6h11.5M1475.2 308.6h11.5M1475.2 374.6h11.5M1475.2 440.6h11.5M1475.2 572.7h11.5M1475.2 638.7h11.5M1475.2 704.7h11.5M1475.2 770.7h11.5M1475.2 836.7h11.5M1475.2 902.7h11.5"/>
<path stroke="#000" fill="none" stroke-width="1.1" d="M195.6 902.7v6M195.6 110.6v-5.8M211.8 902.7v6M211.8 110.6v-5.8M228.0 902.7v6M228.0 110.6v-5.8M244.2 902.7v6M244.2 110.6v-5.8M260.4 902.7v6M260.4 110.6v-5.8M276.6 902.7v6M276.6 110.6v-5.8M292.8 902.7v6M292.8 110.6v-5.8M309.0 902.7v6M309.0 110.6v-5.8M325.2 902.7v6M325.2 110.6v-5.8M357.6 902.7v6M357.6 110.6v-5.8M373.8 902.7v6M373.8 110.6v-5.8M390.0 902.7v6M390.0 110.6v-5.8M406.2 902.7v6M406.2 110.6v-5.8M422.4 902.7v6M422.4 110.6v-5.8M438.6 902.7v6M438.6 110.6v-5.8M454.8 902.7v6M454.8 110.6v-5.8M471.0 902.7v6M471.0 110.6v-5.8M487.2 902.7v6M487.2 110.6v-5.8M519.5 902.7v6M519.5 110.6v-5.8M535.7 902.7v6M535.7 110.6v-5.8M551.9 902.7v6M551.9 110.6v-5.8M568.1 902.7v6M568.1 110.6v-5.8M584.3 902.7v6M584.3 110.6v-5.8M600.5 902.7v6M600.5 110.6v-5.8M616.7 902.7v6M616.7 110.6v-5.8M632.9 902.7v6M632.9 110.6v-5.8M649.1 902.7v6M649.1 110.6v-5.8M681.5 902.7v6M681.5 110.6v-5.8M697.7 902.7v6M697.7 110.6v-5.8M713.9 902.7v6M713.9 110.6v-5.8M730.1 902.7v6M730.1 110.6v-5.8M746.3 902.7v6M746.3 110.6v-5.8M762.5 902.7v6M762.5 110.6v-5.8M778.7 902.7v6M778.7 110.6v-5.8M794.9 902.7v6M794.9 110.6v-5.8M811.1 902.7v6M811.1 110.6v-5.8M843.5 902.7v6M843.5 110.6v-5.8M859.7 902.7v6M859.7 110.6v-5.8M875.9 902.7v6M875.9 110.6v-5.8M892.1 902.7v6M892.1 110.6v-5.8M908.3 902.7v6M908.3 110.6v-5.8M924.5 902.7v6M924.5 110.6v-5.8M940.7 902.7v6M940.7 110.6v-5.8M956.9 902.7v6M956.9 110.6v-5.8M973.1 902.7v6M973.1 110.6v-5.8M1005.5 902.7v6M1005.5 110.6v-5.8M1021.7 902.7v6M1021.7 110.6v-5.8M1037.9 902.7v6M1037.9 110.6v-5.8M1054.1 902.7v6M1054.1 110.6v-5.8M1070.3 902.7v6M1070.3 110.6v-5.8M1086.5 902.7v6M1086.5 110.6v-5.8M1102.7 902.7v6M1102.7 110.6v-5.8M1118.9 902.7v6M1118.9 110.6v-5.8M1135.1 902.7v6M1135.1 110.6v-5.8M1167.4 902.7v6M1167.4 110.6v-5.8M1183.6 902.7v6M1183.6 110.6v-5.8M1199.8 902.7v6M1199.8 110.6v-5.8M1216.0 902.7v6M1216.0 110.6v-5.8M1232.2 902.7v6M1232.2 110.6v-5.8M1248.4 902.7v6M1248.4 110.6v-5.8M1264.6 902.7v6M1264.6 110.6v-5.8M1280.8 902.7v6M1280.8 110.6v-5.8M1297.0 902.7v6M1297.0 110.6v-5.8M1329.4 902.7v6M1329.4 110.6v-5.8M1345.6 902.7v6M1345.6 110.6v-5.8M1361.8 902.7v6M1361.8 110.6v-5.8M1378.0 902.7v6M1378.0 110.6v-5.8M1394.2 902.7v6M1394.2 110.6v-5.8M1410.4 902.7v6M1410.4 110.6v-5.8M1426.6 902.7v6M1426.6 110.6v-5.8M1442.8 902.7v6M1442.8 110.6v-5.8M1459.0 902.7v6M1459.0 110.6v-5.8M179.4 889.5h-6M179.4 876.3h-6M179.4 863.1h-6M179.4 849.9h-6M179.4 836.7h-6M179.4 823.5h-6M179.4 810.3h-6M179.4 797.1h-6M179.4 783.9h-6M179.4 757.5h-6M179.4 744.3h-6M179.4 731.1h-6M179.4 717.9h-6M179.4 704.7h-6M179.4 691.5h-6M179.4 678.3h-6M179.4 665.1h-6M179.4 651.9h-6M179.4 625.5h-6M179.4 612.3h-6M179.4 599.1h-6M179.4 585.9h-6M179.4 572.7h-6M179.4 559.5h-6M179.4 546.3h-6M179.4 533.1h-6M179.4 519.9h-6M179.4 493.4h-6M179.4 480.2h-6M179.4 467.0h-6M179.4 453.8h-6M179.4 440.6h-6M179.4 427.4h-6M179.4 414.2h-6M179.4 401.0h-6M179.4 387.8h-6M179.4 361.4h-6M179.4 348.2h-6M179.4 335.0h-6M179.4 321.8h-6M179.4 308.6h-6M179.4 295.4h-6M179.4 282.2h-6M179.4 269.0h-6M179.4 255.8h-6M179.4 229.4h-6M179.4 216.2h-6M179.4 203.0h-6M179.4 189.8h-6M179.4 176.6h-6M179.4 163.4h-6M179.4 150.2h-6M179.4 137.0h-6M179.4 123.8h-6M1475.2 117.2h6M1475.2 123.8h6M1475.2 130.4h6M1475.2 137.0h6M1475.2 143.6h6M1475.2 150.2h6M1475.2 156.8h6M1475.2 163.4h6M1475.2 170.0h6M1475.2 183.2h6M1475.2 189.8h6M1475.2 196.4h6M1475.2 203.0h6M1475.2 209.6h6M1475.2 216.2h6M1475.2 222.8h6M1475.2 229.4h6M1475.2 236.0h6M1475.2 249.2h6M1475.2 255.8h6M1475.2 262.4h6M1475.2 269.0h6M1475.2 275.6h6M1475.2 282.2h6M1475.2 288.8h6M1475.2 295.4h6M1475.2 302.0h6M1475.2 315.2h6M1475.2 321.8h6M1475.2 328.4h6M1475.2 335.0h6M1475.2 341.6h6M1475.2 348.2h6M1475.2 354.8h6M1475.2 361.4h6M1475.2 368.0h6M1475.2 381.2h6M1475.2 387.8h6M1475.2 394.4h6M1475.2 401.0h6M1475.2 407.6h6M1475.2 414.2h6M1475.2 420.8h6M1475.2 427.4h6M1475.2 434.0h6M1475.2 447.2h6M1475.2 453.8h6M1475.2 460.4h6M1475.2 467.0h6M1475.2 473.6h6M1475.2 480.2h6M1475.2 486.8h6M1475.2 493.4h6M1475.2 500.0h6M1475.2 519.9h6M1475.2 533.1h6M1475.2 546.3h6M1475.2 559.5h6M1475.2 585.9h6M1475.2 599.1h6M1475.2 612.3h6M1475.2 625.5h6M1475.2 651.9h6M1475.2 665.1h6M1475.2 678.3h6M1475.2 691.5h6M1475.2 717.9h6M1475.2 731.1h6M1475.2 744.3h6M1475.2 757.5h6M1475.2 783.9h6M1475.2 797.1h6M1475.2 810.3h6M1475.2 823.5h6M1475.2 849.9h6M1475.2 863.1h6M1475.2 876.3h6M1475.2 889.5h6"/>
<g font-size="28.6" text-anchor="end">
<text x="157.0" y="913.4">–300</text>
<text x="157.0" y="781.4">–200</text>
<text x="157.0" y="649.4">–100</text>
<text x="157.0" y="517.4">0</text>
<text x="157.0" y="385.3">100</text>
<text x="157.0" y="253.3">200</text>
<text x="157.0" y="121.3">300</text>
</g>
<g font-size="28.6" text-anchor="middle">
<text x="179.4" y="946.2">–10</text>
<text x="341.4" y="946.2">0</text>
<text x="503.4" y="946.2">10</text>
<text x="665.3" y="946.2">20</text>
<text x="827.3" y="946.2">30</text>
<text x="989.3" y="946.2">40</text>
<text x="1151.2" y="946.2">50</text>
<text x="1313.2" y="946.2">60</text>
<text x="1475.2" y="946.2">70</text>
</g>
<g font-size="28.6" text-anchor="end">
<text x="1559.5" y="121.3">1030</text>
<text x="1559.5" y="187.3">1020</text>
<text x="1559.5" y="253.3">1010</text>
<text x="1559.5" y="319.3">1000</text>
<text x="1559.5" y="385.3">990</text>
<text x="1559.5" y="451.3">980</text>
<text x="1576.5" y="583.4">1000</text>
<text x="1576.5" y="649.4">500</text>
<text x="1576.5" y="715.4">0</text>
<text x="1576.5" y="781.4">–500</text>
<text x="1576.5" y="847.4">–1000</text>
<text x="1576.5" y="913.4">–1500</text>
</g>
<text x="827.0" y="999.8" font-size="36.1" text-anchor="middle">Time [min] from 2017–06–22 02:40:00 UTC</text>
<text transform="translate(64.9,505.7) rotate(-90)" font-size="36.1" text-anchor="middle">Obs’d Gravity [nm/s<tspan font-size="25.3" dy="-12.6">2</tspan><tspan dy="12.6">]</tspan></text>
<text transform="translate(1615,308) rotate(-90)" font-size="36.1" text-anchor="middle">Pressure [hPa]</text>
<text transform="translate(1632,704.5) rotate(-90)" font-size="36.1" text-anchor="middle">Tide [nm/s<tspan font-size="25.3" dy="-12.6">2</tspan><tspan dy="12.6">]</tspan></text>
<text x="1012.2" y="82" font-size="32.3" font-weight="bold" text-anchor="middle">SCG_054 gravimeter Onsala Space Observatory, Sweden</text>
<text x="208.2" y="887.6" font-size="27.9" font-weight="bold">The latest 1–hour, 1–second sampling</text>
<text x="1446.3" y="887.6" font-size="27.9" font-weight="bold" text-anchor="end">End at 2017–06–22 03:39:59 UTC</text>
<text x="185.6" y="759" font-size="27.9" fill="#a3a3a3">Start:</text>
<text x="185.6" y="802.2" font-size="27.9" fill="#a3a3a3">03:05:00</text>
<rect x="182.9" y="28.4" width="372.6" height="152.8" fill="#fff" stroke="#7a7a7a" stroke-width="0.9"/>
<path stroke="#0000ff" stroke-width="0.7" d="M220 39.4H276.3"/><circle cx="248.3" cy="39.4" r="4.3" fill="#0000ff"/>
<path stroke="#00c8c8" stroke-width="0.7" d="M220 69.2H276.3"/><circle cx="248.3" cy="69.2" r="4.3" fill="#00c8c8"/>
<path stroke="#000" stroke-width="2.9" d="M220 100.2H276.3"/>
<path stroke="#bebebe" stroke-width="2.9" d="M220 130.5H276.3"/>
<path stroke="#ff0000" stroke-width="0.7" d="M220 161.1H276.3"/><circle cx="248.3" cy="161.1" r="4.3" fill="#ff0000"/>
<g font-size="24.2">
<text x="294.3" y="47.5">Pressure</text>
<text x="294.3" y="77.8">dP/dt range ±0.3 hPa/s</text>
<text x="294.3" y="108.6">Residual</text>
<text x="294.3" y="138.9">10 minutes slice</text>
<text x="294.3" y="169.4">Theor.Tide</text>
</g>
</svg>
</body></html>
